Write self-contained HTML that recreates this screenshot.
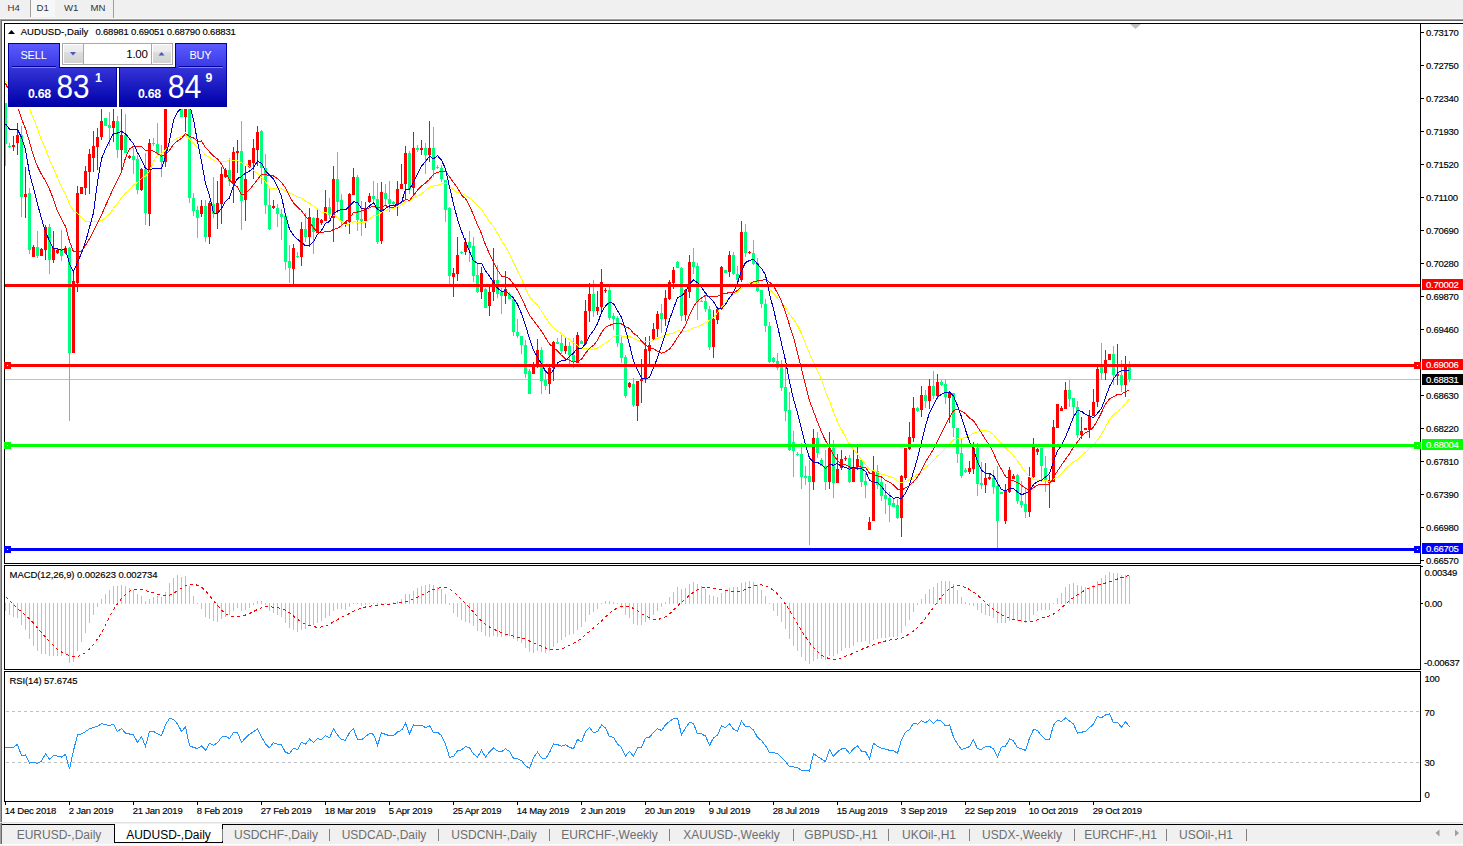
<!DOCTYPE html>
<html><head><meta charset="utf-8"><style>
html,body{margin:0;padding:0;background:#fff;overflow:hidden;width:1463px;height:846px}
svg text{font-family:"Liberation Sans", sans-serif;}
</style></head><body>
<svg width="1463" height="846" viewBox="0 0 1463 846" style="position:absolute;left:0;top:0">
<rect x="0" y="0" width="1463" height="846" fill="#fff"/>
<!-- toolbar -->
<rect x="0" y="0" width="1463" height="18" fill="#F0F0F0"/>
<rect x="0" y="18" width="1463" height="1" fill="#F7F7F7"/>
<rect x="0" y="19" width="1463" height="1" fill="#A0A0A0"/>
<rect x="0" y="20" width="1463" height="1" fill="#696969"/>
<rect x="30" y="0" width="1" height="17" fill="#A0A0A0"/>
<rect x="31" y="0" width="24" height="17" fill="#F7F7F7"/>
<rect x="113" y="0" width="1" height="18" fill="#A0A0A0"/>

<g shape-rendering="crispEdges">
<rect x="5" y="379" width="1415" height="1" fill="#C0C0C0"/>
<rect x="5" y="103" width="1" height="63" fill="#00FF7F"/>
<rect x="4" y="103" width="3" height="41" fill="#00FF7F"/>
<rect x="9" y="143" width="1" height="5" fill="#00FF7F"/>
<rect x="8" y="146" width="3" height="1" fill="#00FF7F"/>
<rect x="13" y="136" width="1" height="15" fill="#FF0000"/>
<rect x="12" y="145" width="3" height="2" fill="#FF0000"/>
<rect x="17" y="123" width="1" height="32" fill="#FF0000"/>
<rect x="16" y="135" width="3" height="8" fill="#FF0000"/>
<rect x="21" y="126" width="1" height="91" fill="#00FF7F"/>
<rect x="20" y="135" width="3" height="62" fill="#00FF7F"/>
<rect x="25" y="167" width="1" height="51" fill="#FF0000"/>
<rect x="24" y="194" width="3" height="3" fill="#FF0000"/>
<rect x="29" y="188" width="1" height="66" fill="#00FF7F"/>
<rect x="28" y="193" width="3" height="57" fill="#00FF7F"/>
<rect x="33" y="245" width="1" height="12" fill="#FF0000"/>
<rect x="32" y="247" width="3" height="10" fill="#FF0000"/>
<rect x="37" y="231" width="1" height="27" fill="#00FF7F"/>
<rect x="36" y="247" width="3" height="9" fill="#00FF7F"/>
<rect x="41" y="248" width="1" height="8" fill="#FF0000"/>
<rect x="40" y="249" width="3" height="7" fill="#FF0000"/>
<rect x="45" y="225" width="1" height="35" fill="#FF0000"/>
<rect x="44" y="227" width="3" height="23" fill="#FF0000"/>
<rect x="49" y="224" width="1" height="50" fill="#00FF7F"/>
<rect x="48" y="227" width="3" height="33" fill="#00FF7F"/>
<rect x="53" y="231" width="1" height="32" fill="#FF0000"/>
<rect x="52" y="248" width="3" height="12" fill="#FF0000"/>
<rect x="57" y="248" width="1" height="6" fill="#FF0000"/>
<rect x="56" y="250" width="3" height="3" fill="#FF0000"/>
<rect x="61" y="230" width="1" height="31" fill="#00FF7F"/>
<rect x="60" y="250" width="3" height="6" fill="#00FF7F"/>
<rect x="65" y="246" width="1" height="8" fill="#FF0000"/>
<rect x="64" y="248" width="3" height="5" fill="#FF0000"/>
<rect x="69" y="247" width="1" height="174" fill="#00FF7F"/>
<rect x="68" y="248" width="3" height="105" fill="#00FF7F"/>
<rect x="73" y="271" width="1" height="82" fill="#FF0000"/>
<rect x="72" y="281" width="3" height="72" fill="#FF0000"/>
<rect x="77" y="186" width="1" height="106" fill="#FF0000"/>
<rect x="76" y="193" width="3" height="90" fill="#FF0000"/>
<rect x="81" y="187" width="1" height="7" fill="#FF0000"/>
<rect x="80" y="187" width="3" height="7" fill="#FF0000"/>
<rect x="85" y="166" width="1" height="29" fill="#FF0000"/>
<rect x="84" y="171" width="3" height="17" fill="#FF0000"/>
<rect x="89" y="149" width="1" height="45" fill="#FF0000"/>
<rect x="88" y="154" width="3" height="18" fill="#FF0000"/>
<rect x="93" y="131" width="1" height="41" fill="#FF0000"/>
<rect x="92" y="146" width="3" height="12" fill="#FF0000"/>
<rect x="97" y="128" width="1" height="42" fill="#FF0000"/>
<rect x="96" y="137" width="3" height="10" fill="#FF0000"/>
<rect x="101" y="109" width="1" height="31" fill="#FF0000"/>
<rect x="100" y="121" width="3" height="16" fill="#FF0000"/>
<rect x="105" y="118" width="1" height="8" fill="#00FF7F"/>
<rect x="104" y="118" width="3" height="8" fill="#00FF7F"/>
<rect x="109" y="112" width="1" height="34" fill="#00FF7F"/>
<rect x="108" y="125" width="3" height="3" fill="#00FF7F"/>
<rect x="113" y="109" width="1" height="33" fill="#FF0000"/>
<rect x="112" y="121" width="3" height="7" fill="#FF0000"/>
<rect x="117" y="116" width="1" height="42" fill="#00FF7F"/>
<rect x="116" y="121" width="3" height="29" fill="#00FF7F"/>
<rect x="121" y="109" width="1" height="61" fill="#FF0000"/>
<rect x="120" y="135" width="3" height="15" fill="#FF0000"/>
<rect x="125" y="114" width="1" height="39" fill="#00FF7F"/>
<rect x="124" y="135" width="3" height="18" fill="#00FF7F"/>
<rect x="129" y="155" width="1" height="4" fill="#FF0000"/>
<rect x="128" y="156" width="3" height="2" fill="#FF0000"/>
<rect x="133" y="148" width="1" height="26" fill="#00FF7F"/>
<rect x="132" y="156" width="3" height="4" fill="#00FF7F"/>
<rect x="137" y="155" width="1" height="39" fill="#00FF7F"/>
<rect x="136" y="159" width="3" height="31" fill="#00FF7F"/>
<rect x="141" y="168" width="1" height="23" fill="#FF0000"/>
<rect x="140" y="169" width="3" height="21" fill="#FF0000"/>
<rect x="145" y="153" width="1" height="72" fill="#00FF7F"/>
<rect x="144" y="169" width="3" height="44" fill="#00FF7F"/>
<rect x="149" y="139" width="1" height="87" fill="#FF0000"/>
<rect x="148" y="143" width="3" height="71" fill="#FF0000"/>
<rect x="153" y="138" width="1" height="8" fill="#00FF7F"/>
<rect x="152" y="143" width="3" height="1" fill="#00FF7F"/>
<rect x="157" y="123" width="1" height="32" fill="#00FF7F"/>
<rect x="156" y="144" width="3" height="10" fill="#00FF7F"/>
<rect x="161" y="145" width="1" height="32" fill="#00FF7F"/>
<rect x="160" y="155" width="3" height="7" fill="#00FF7F"/>
<rect x="165" y="100" width="1" height="67" fill="#FF0000"/>
<rect x="164" y="105" width="3" height="57" fill="#FF0000"/>
<rect x="169" y="55" width="1" height="51" fill="#FF0000"/>
<rect x="168" y="63" width="3" height="41" fill="#FF0000"/>
<rect x="173" y="58" width="1" height="22" fill="#00FF7F"/>
<rect x="172" y="63" width="3" height="4" fill="#00FF7F"/>
<rect x="177" y="60" width="1" height="35" fill="#00FF7F"/>
<rect x="176" y="67" width="3" height="18" fill="#00FF7F"/>
<rect x="181" y="80" width="1" height="37" fill="#00FF7F"/>
<rect x="180" y="85" width="3" height="32" fill="#00FF7F"/>
<rect x="185" y="85" width="1" height="47" fill="#FF0000"/>
<rect x="184" y="92" width="3" height="25" fill="#FF0000"/>
<rect x="189" y="90" width="1" height="113" fill="#00FF7F"/>
<rect x="188" y="95" width="3" height="103" fill="#00FF7F"/>
<rect x="193" y="193" width="1" height="23" fill="#00FF7F"/>
<rect x="192" y="198" width="3" height="13" fill="#00FF7F"/>
<rect x="197" y="206" width="1" height="32" fill="#00FF7F"/>
<rect x="196" y="210" width="3" height="8" fill="#00FF7F"/>
<rect x="201" y="200" width="1" height="17" fill="#FF0000"/>
<rect x="200" y="206" width="3" height="8" fill="#FF0000"/>
<rect x="205" y="200" width="1" height="42" fill="#00FF7F"/>
<rect x="204" y="206" width="3" height="31" fill="#00FF7F"/>
<rect x="209" y="201" width="1" height="43" fill="#FF0000"/>
<rect x="208" y="203" width="3" height="34" fill="#FF0000"/>
<rect x="213" y="177" width="1" height="41" fill="#00FF7F"/>
<rect x="212" y="204" width="3" height="10" fill="#00FF7F"/>
<rect x="217" y="181" width="1" height="48" fill="#FF0000"/>
<rect x="216" y="203" width="3" height="10" fill="#FF0000"/>
<rect x="221" y="167" width="1" height="57" fill="#FF0000"/>
<rect x="220" y="174" width="3" height="30" fill="#FF0000"/>
<rect x="225" y="168" width="1" height="10" fill="#FF0000"/>
<rect x="224" y="170" width="3" height="7" fill="#FF0000"/>
<rect x="229" y="158" width="1" height="28" fill="#00FF7F"/>
<rect x="228" y="170" width="3" height="11" fill="#00FF7F"/>
<rect x="233" y="147" width="1" height="56" fill="#FF0000"/>
<rect x="232" y="152" width="3" height="32" fill="#FF0000"/>
<rect x="237" y="140" width="1" height="33" fill="#FF0000"/>
<rect x="236" y="151" width="3" height="2" fill="#FF0000"/>
<rect x="241" y="121" width="1" height="109" fill="#00FF7F"/>
<rect x="240" y="151" width="3" height="50" fill="#00FF7F"/>
<rect x="245" y="166" width="1" height="55" fill="#FF0000"/>
<rect x="244" y="179" width="3" height="21" fill="#FF0000"/>
<rect x="249" y="160" width="1" height="8" fill="#FF0000"/>
<rect x="248" y="160" width="3" height="7" fill="#FF0000"/>
<rect x="253" y="139" width="1" height="40" fill="#FF0000"/>
<rect x="252" y="148" width="3" height="15" fill="#FF0000"/>
<rect x="257" y="126" width="1" height="40" fill="#FF0000"/>
<rect x="256" y="132" width="3" height="18" fill="#FF0000"/>
<rect x="261" y="130" width="1" height="54" fill="#00FF7F"/>
<rect x="260" y="131" width="3" height="37" fill="#00FF7F"/>
<rect x="265" y="154" width="1" height="60" fill="#00FF7F"/>
<rect x="264" y="168" width="3" height="37" fill="#00FF7F"/>
<rect x="269" y="189" width="1" height="41" fill="#00FF7F"/>
<rect x="268" y="205" width="3" height="24" fill="#00FF7F"/>
<rect x="273" y="200" width="1" height="9" fill="#FF0000"/>
<rect x="272" y="206" width="3" height="2" fill="#FF0000"/>
<rect x="277" y="204" width="1" height="23" fill="#00FF7F"/>
<rect x="276" y="208" width="3" height="6" fill="#00FF7F"/>
<rect x="281" y="209" width="1" height="31" fill="#00FF7F"/>
<rect x="280" y="214" width="3" height="3" fill="#00FF7F"/>
<rect x="285" y="216" width="1" height="54" fill="#00FF7F"/>
<rect x="284" y="216" width="3" height="46" fill="#00FF7F"/>
<rect x="289" y="245" width="1" height="38" fill="#00FF7F"/>
<rect x="288" y="261" width="3" height="7" fill="#00FF7F"/>
<rect x="293" y="244" width="1" height="40" fill="#FF0000"/>
<rect x="292" y="248" width="3" height="21" fill="#FF0000"/>
<rect x="297" y="252" width="1" height="6" fill="#00FF7F"/>
<rect x="296" y="256" width="3" height="1" fill="#00FF7F"/>
<rect x="301" y="222" width="1" height="44" fill="#FF0000"/>
<rect x="300" y="229" width="3" height="28" fill="#FF0000"/>
<rect x="305" y="213" width="1" height="29" fill="#00FF7F"/>
<rect x="304" y="229" width="3" height="8" fill="#00FF7F"/>
<rect x="309" y="208" width="1" height="39" fill="#FF0000"/>
<rect x="308" y="217" width="3" height="20" fill="#FF0000"/>
<rect x="313" y="217" width="1" height="37" fill="#00FF7F"/>
<rect x="312" y="218" width="3" height="14" fill="#00FF7F"/>
<rect x="317" y="209" width="1" height="24" fill="#FF0000"/>
<rect x="316" y="218" width="3" height="15" fill="#FF0000"/>
<rect x="321" y="219" width="1" height="6" fill="#FF0000"/>
<rect x="320" y="220" width="3" height="3" fill="#FF0000"/>
<rect x="325" y="190" width="1" height="31" fill="#FF0000"/>
<rect x="324" y="207" width="3" height="14" fill="#FF0000"/>
<rect x="329" y="198" width="1" height="21" fill="#00FF7F"/>
<rect x="328" y="207" width="3" height="8" fill="#00FF7F"/>
<rect x="333" y="166" width="1" height="76" fill="#FF0000"/>
<rect x="332" y="179" width="3" height="39" fill="#FF0000"/>
<rect x="337" y="152" width="1" height="61" fill="#00FF7F"/>
<rect x="336" y="179" width="3" height="23" fill="#00FF7F"/>
<rect x="341" y="194" width="1" height="31" fill="#00FF7F"/>
<rect x="340" y="200" width="3" height="21" fill="#00FF7F"/>
<rect x="345" y="221" width="1" height="6" fill="#FF0000"/>
<rect x="344" y="222" width="3" height="2" fill="#FF0000"/>
<rect x="349" y="193" width="1" height="41" fill="#FF0000"/>
<rect x="348" y="194" width="3" height="28" fill="#FF0000"/>
<rect x="353" y="168" width="1" height="27" fill="#FF0000"/>
<rect x="352" y="177" width="3" height="18" fill="#FF0000"/>
<rect x="357" y="175" width="1" height="56" fill="#00FF7F"/>
<rect x="356" y="177" width="3" height="43" fill="#00FF7F"/>
<rect x="361" y="201" width="1" height="35" fill="#00FF7F"/>
<rect x="360" y="219" width="3" height="2" fill="#00FF7F"/>
<rect x="365" y="202" width="1" height="26" fill="#FF0000"/>
<rect x="364" y="208" width="3" height="13" fill="#FF0000"/>
<rect x="369" y="193" width="1" height="10" fill="#FF0000"/>
<rect x="368" y="196" width="3" height="6" fill="#FF0000"/>
<rect x="373" y="181" width="1" height="22" fill="#00FF7F"/>
<rect x="372" y="196" width="3" height="3" fill="#00FF7F"/>
<rect x="377" y="183" width="1" height="61" fill="#00FF7F"/>
<rect x="376" y="199" width="3" height="43" fill="#00FF7F"/>
<rect x="381" y="182" width="1" height="62" fill="#FF0000"/>
<rect x="380" y="192" width="3" height="49" fill="#FF0000"/>
<rect x="385" y="184" width="1" height="22" fill="#00FF7F"/>
<rect x="384" y="193" width="3" height="6" fill="#00FF7F"/>
<rect x="389" y="181" width="1" height="31" fill="#00FF7F"/>
<rect x="388" y="199" width="3" height="5" fill="#00FF7F"/>
<rect x="393" y="201" width="1" height="5" fill="#00FF7F"/>
<rect x="392" y="202" width="3" height="2" fill="#00FF7F"/>
<rect x="397" y="181" width="1" height="35" fill="#FF0000"/>
<rect x="396" y="189" width="3" height="15" fill="#FF0000"/>
<rect x="401" y="164" width="1" height="25" fill="#FF0000"/>
<rect x="400" y="184" width="3" height="5" fill="#FF0000"/>
<rect x="405" y="146" width="1" height="54" fill="#FF0000"/>
<rect x="404" y="153" width="3" height="31" fill="#FF0000"/>
<rect x="409" y="151" width="1" height="43" fill="#00FF7F"/>
<rect x="408" y="153" width="3" height="36" fill="#00FF7F"/>
<rect x="413" y="132" width="1" height="62" fill="#FF0000"/>
<rect x="412" y="148" width="3" height="40" fill="#FF0000"/>
<rect x="417" y="145" width="1" height="7" fill="#00FF7F"/>
<rect x="416" y="148" width="3" height="2" fill="#00FF7F"/>
<rect x="421" y="140" width="1" height="15" fill="#FF0000"/>
<rect x="420" y="148" width="3" height="2" fill="#FF0000"/>
<rect x="425" y="143" width="1" height="31" fill="#00FF7F"/>
<rect x="424" y="148" width="3" height="7" fill="#00FF7F"/>
<rect x="429" y="121" width="1" height="41" fill="#FF0000"/>
<rect x="428" y="148" width="3" height="7" fill="#FF0000"/>
<rect x="433" y="127" width="1" height="50" fill="#00FF7F"/>
<rect x="432" y="148" width="3" height="22" fill="#00FF7F"/>
<rect x="437" y="165" width="1" height="4" fill="#00FF7F"/>
<rect x="436" y="167" width="3" height="1" fill="#00FF7F"/>
<rect x="441" y="165" width="1" height="17" fill="#00FF7F"/>
<rect x="440" y="168" width="3" height="11" fill="#00FF7F"/>
<rect x="445" y="180" width="1" height="42" fill="#00FF7F"/>
<rect x="444" y="180" width="3" height="30" fill="#00FF7F"/>
<rect x="449" y="207" width="1" height="77" fill="#00FF7F"/>
<rect x="448" y="208" width="3" height="68" fill="#00FF7F"/>
<rect x="453" y="268" width="1" height="29" fill="#FF0000"/>
<rect x="452" y="273" width="3" height="4" fill="#FF0000"/>
<rect x="457" y="237" width="1" height="44" fill="#FF0000"/>
<rect x="456" y="255" width="3" height="19" fill="#FF0000"/>
<rect x="461" y="251" width="1" height="3" fill="#00FF7F"/>
<rect x="460" y="252" width="3" height="1" fill="#00FF7F"/>
<rect x="465" y="238" width="1" height="17" fill="#FF0000"/>
<rect x="464" y="242" width="3" height="10" fill="#FF0000"/>
<rect x="469" y="231" width="1" height="31" fill="#00FF7F"/>
<rect x="468" y="242" width="3" height="6" fill="#00FF7F"/>
<rect x="473" y="237" width="1" height="45" fill="#00FF7F"/>
<rect x="472" y="246" width="3" height="30" fill="#00FF7F"/>
<rect x="477" y="263" width="1" height="30" fill="#00FF7F"/>
<rect x="476" y="275" width="3" height="17" fill="#00FF7F"/>
<rect x="481" y="267" width="1" height="32" fill="#FF0000"/>
<rect x="480" y="273" width="3" height="19" fill="#FF0000"/>
<rect x="485" y="288" width="1" height="20" fill="#00FF7F"/>
<rect x="484" y="289" width="3" height="19" fill="#00FF7F"/>
<rect x="489" y="287" width="1" height="29" fill="#FF0000"/>
<rect x="488" y="292" width="3" height="14" fill="#FF0000"/>
<rect x="493" y="248" width="1" height="53" fill="#FF0000"/>
<rect x="492" y="280" width="3" height="12" fill="#FF0000"/>
<rect x="497" y="265" width="1" height="33" fill="#00FF7F"/>
<rect x="496" y="280" width="3" height="14" fill="#00FF7F"/>
<rect x="501" y="288" width="1" height="26" fill="#00FF7F"/>
<rect x="500" y="292" width="3" height="4" fill="#00FF7F"/>
<rect x="505" y="271" width="1" height="33" fill="#FF0000"/>
<rect x="504" y="289" width="3" height="7" fill="#FF0000"/>
<rect x="509" y="292" width="1" height="7" fill="#00FF7F"/>
<rect x="508" y="294" width="3" height="5" fill="#00FF7F"/>
<rect x="513" y="298" width="1" height="38" fill="#00FF7F"/>
<rect x="512" y="299" width="3" height="33" fill="#00FF7F"/>
<rect x="517" y="319" width="1" height="19" fill="#00FF7F"/>
<rect x="516" y="332" width="3" height="4" fill="#00FF7F"/>
<rect x="521" y="336" width="1" height="18" fill="#00FF7F"/>
<rect x="520" y="336" width="3" height="9" fill="#00FF7F"/>
<rect x="525" y="340" width="1" height="38" fill="#00FF7F"/>
<rect x="524" y="345" width="3" height="29" fill="#00FF7F"/>
<rect x="529" y="369" width="1" height="25" fill="#00FF7F"/>
<rect x="528" y="371" width="3" height="23" fill="#00FF7F"/>
<rect x="533" y="362" width="1" height="12" fill="#FF0000"/>
<rect x="532" y="366" width="3" height="8" fill="#FF0000"/>
<rect x="537" y="339" width="1" height="29" fill="#FF0000"/>
<rect x="536" y="350" width="3" height="15" fill="#FF0000"/>
<rect x="541" y="347" width="1" height="47" fill="#00FF7F"/>
<rect x="540" y="350" width="3" height="31" fill="#00FF7F"/>
<rect x="545" y="370" width="1" height="20" fill="#00FF7F"/>
<rect x="544" y="380" width="3" height="6" fill="#00FF7F"/>
<rect x="549" y="367" width="1" height="27" fill="#FF0000"/>
<rect x="548" y="368" width="3" height="16" fill="#FF0000"/>
<rect x="553" y="341" width="1" height="40" fill="#FF0000"/>
<rect x="552" y="342" width="3" height="26" fill="#FF0000"/>
<rect x="557" y="338" width="1" height="6" fill="#00FF7F"/>
<rect x="556" y="342" width="3" height="2" fill="#00FF7F"/>
<rect x="561" y="335" width="1" height="19" fill="#00FF7F"/>
<rect x="560" y="343" width="3" height="8" fill="#00FF7F"/>
<rect x="565" y="338" width="1" height="16" fill="#FF0000"/>
<rect x="564" y="346" width="3" height="5" fill="#FF0000"/>
<rect x="569" y="342" width="1" height="22" fill="#00FF7F"/>
<rect x="568" y="346" width="3" height="9" fill="#00FF7F"/>
<rect x="573" y="338" width="1" height="30" fill="#00FF7F"/>
<rect x="572" y="355" width="3" height="6" fill="#00FF7F"/>
<rect x="577" y="332" width="1" height="31" fill="#FF0000"/>
<rect x="576" y="335" width="3" height="28" fill="#FF0000"/>
<rect x="581" y="340" width="1" height="4" fill="#00FF7F"/>
<rect x="580" y="341" width="3" height="3" fill="#00FF7F"/>
<rect x="585" y="300" width="1" height="45" fill="#FF0000"/>
<rect x="584" y="311" width="3" height="33" fill="#FF0000"/>
<rect x="589" y="283" width="1" height="39" fill="#FF0000"/>
<rect x="588" y="294" width="3" height="17" fill="#FF0000"/>
<rect x="593" y="280" width="1" height="37" fill="#00FF7F"/>
<rect x="592" y="294" width="3" height="17" fill="#00FF7F"/>
<rect x="597" y="291" width="1" height="24" fill="#FF0000"/>
<rect x="596" y="307" width="3" height="4" fill="#FF0000"/>
<rect x="601" y="269" width="1" height="45" fill="#FF0000"/>
<rect x="600" y="282" width="3" height="25" fill="#FF0000"/>
<rect x="605" y="288" width="1" height="5" fill="#FF0000"/>
<rect x="604" y="290" width="3" height="1" fill="#FF0000"/>
<rect x="609" y="287" width="1" height="33" fill="#00FF7F"/>
<rect x="608" y="290" width="3" height="28" fill="#00FF7F"/>
<rect x="613" y="313" width="1" height="17" fill="#00FF7F"/>
<rect x="612" y="316" width="3" height="3" fill="#00FF7F"/>
<rect x="617" y="316" width="1" height="31" fill="#00FF7F"/>
<rect x="616" y="318" width="3" height="25" fill="#00FF7F"/>
<rect x="621" y="336" width="1" height="27" fill="#00FF7F"/>
<rect x="620" y="343" width="3" height="15" fill="#00FF7F"/>
<rect x="625" y="355" width="1" height="43" fill="#00FF7F"/>
<rect x="624" y="357" width="3" height="39" fill="#00FF7F"/>
<rect x="629" y="382" width="1" height="6" fill="#FF0000"/>
<rect x="628" y="383" width="3" height="4" fill="#FF0000"/>
<rect x="633" y="378" width="1" height="29" fill="#00FF7F"/>
<rect x="632" y="384" width="3" height="21" fill="#00FF7F"/>
<rect x="637" y="381" width="1" height="40" fill="#FF0000"/>
<rect x="636" y="381" width="3" height="25" fill="#FF0000"/>
<rect x="641" y="359" width="1" height="44" fill="#FF0000"/>
<rect x="640" y="379" width="3" height="2" fill="#FF0000"/>
<rect x="645" y="337" width="1" height="46" fill="#FF0000"/>
<rect x="644" y="349" width="3" height="30" fill="#FF0000"/>
<rect x="649" y="336" width="1" height="29" fill="#FF0000"/>
<rect x="648" y="345" width="3" height="6" fill="#FF0000"/>
<rect x="653" y="323" width="1" height="17" fill="#FF0000"/>
<rect x="652" y="329" width="3" height="10" fill="#FF0000"/>
<rect x="657" y="311" width="1" height="26" fill="#FF0000"/>
<rect x="656" y="314" width="3" height="15" fill="#FF0000"/>
<rect x="661" y="304" width="1" height="29" fill="#00FF7F"/>
<rect x="660" y="313" width="3" height="6" fill="#00FF7F"/>
<rect x="665" y="290" width="1" height="36" fill="#FF0000"/>
<rect x="664" y="298" width="3" height="21" fill="#FF0000"/>
<rect x="669" y="280" width="1" height="20" fill="#FF0000"/>
<rect x="668" y="282" width="3" height="17" fill="#FF0000"/>
<rect x="673" y="267" width="1" height="22" fill="#FF0000"/>
<rect x="672" y="270" width="3" height="13" fill="#FF0000"/>
<rect x="677" y="261" width="1" height="7" fill="#00FF7F"/>
<rect x="676" y="262" width="3" height="6" fill="#00FF7F"/>
<rect x="681" y="267" width="1" height="54" fill="#00FF7F"/>
<rect x="680" y="268" width="3" height="48" fill="#00FF7F"/>
<rect x="685" y="289" width="1" height="32" fill="#FF0000"/>
<rect x="684" y="290" width="3" height="25" fill="#FF0000"/>
<rect x="689" y="255" width="1" height="43" fill="#FF0000"/>
<rect x="688" y="262" width="3" height="30" fill="#FF0000"/>
<rect x="693" y="248" width="1" height="26" fill="#00FF7F"/>
<rect x="692" y="262" width="3" height="5" fill="#00FF7F"/>
<rect x="697" y="263" width="1" height="57" fill="#00FF7F"/>
<rect x="696" y="266" width="3" height="36" fill="#00FF7F"/>
<rect x="701" y="300" width="1" height="2" fill="#00FF7F"/>
<rect x="700" y="301" width="3" height="1" fill="#00FF7F"/>
<rect x="705" y="296" width="1" height="16" fill="#00FF7F"/>
<rect x="704" y="301" width="3" height="8" fill="#00FF7F"/>
<rect x="709" y="306" width="1" height="44" fill="#00FF7F"/>
<rect x="708" y="309" width="3" height="38" fill="#00FF7F"/>
<rect x="713" y="310" width="1" height="48" fill="#FF0000"/>
<rect x="712" y="319" width="3" height="28" fill="#FF0000"/>
<rect x="717" y="308" width="1" height="16" fill="#FF0000"/>
<rect x="716" y="309" width="3" height="11" fill="#FF0000"/>
<rect x="721" y="266" width="1" height="44" fill="#FF0000"/>
<rect x="720" y="267" width="3" height="42" fill="#FF0000"/>
<rect x="725" y="270" width="1" height="3" fill="#00FF7F"/>
<rect x="724" y="270" width="3" height="3" fill="#00FF7F"/>
<rect x="729" y="251" width="1" height="26" fill="#FF0000"/>
<rect x="728" y="255" width="3" height="17" fill="#FF0000"/>
<rect x="733" y="252" width="1" height="23" fill="#00FF7F"/>
<rect x="732" y="255" width="3" height="19" fill="#00FF7F"/>
<rect x="737" y="266" width="1" height="15" fill="#00FF7F"/>
<rect x="736" y="274" width="3" height="6" fill="#00FF7F"/>
<rect x="741" y="221" width="1" height="61" fill="#FF0000"/>
<rect x="740" y="232" width="3" height="48" fill="#FF0000"/>
<rect x="745" y="224" width="1" height="33" fill="#00FF7F"/>
<rect x="744" y="232" width="3" height="21" fill="#00FF7F"/>
<rect x="749" y="251" width="1" height="3" fill="#FF0000"/>
<rect x="748" y="252" width="3" height="1" fill="#FF0000"/>
<rect x="753" y="240" width="1" height="25" fill="#00FF7F"/>
<rect x="752" y="253" width="3" height="11" fill="#00FF7F"/>
<rect x="757" y="258" width="1" height="34" fill="#00FF7F"/>
<rect x="756" y="263" width="3" height="28" fill="#00FF7F"/>
<rect x="761" y="290" width="1" height="18" fill="#00FF7F"/>
<rect x="760" y="290" width="3" height="14" fill="#00FF7F"/>
<rect x="765" y="299" width="1" height="33" fill="#00FF7F"/>
<rect x="764" y="304" width="3" height="22" fill="#00FF7F"/>
<rect x="769" y="322" width="1" height="41" fill="#00FF7F"/>
<rect x="768" y="326" width="3" height="36" fill="#00FF7F"/>
<rect x="773" y="357" width="1" height="6" fill="#00FF7F"/>
<rect x="772" y="358" width="3" height="4" fill="#00FF7F"/>
<rect x="777" y="353" width="1" height="17" fill="#00FF7F"/>
<rect x="776" y="361" width="3" height="7" fill="#00FF7F"/>
<rect x="781" y="360" width="1" height="31" fill="#00FF7F"/>
<rect x="780" y="367" width="3" height="21" fill="#00FF7F"/>
<rect x="785" y="365" width="1" height="56" fill="#00FF7F"/>
<rect x="784" y="387" width="3" height="24" fill="#00FF7F"/>
<rect x="789" y="392" width="1" height="59" fill="#00FF7F"/>
<rect x="788" y="410" width="3" height="40" fill="#00FF7F"/>
<rect x="793" y="431" width="1" height="46" fill="#00FF7F"/>
<rect x="792" y="442" width="3" height="9" fill="#00FF7F"/>
<rect x="797" y="452" width="1" height="4" fill="#00FF7F"/>
<rect x="796" y="454" width="3" height="1" fill="#00FF7F"/>
<rect x="801" y="443" width="1" height="46" fill="#00FF7F"/>
<rect x="800" y="454" width="3" height="23" fill="#00FF7F"/>
<rect x="805" y="466" width="1" height="19" fill="#00FF7F"/>
<rect x="804" y="476" width="3" height="2" fill="#00FF7F"/>
<rect x="809" y="460" width="1" height="85" fill="#00FF7F"/>
<rect x="808" y="476" width="3" height="6" fill="#00FF7F"/>
<rect x="813" y="429" width="1" height="61" fill="#FF0000"/>
<rect x="812" y="438" width="3" height="44" fill="#FF0000"/>
<rect x="817" y="432" width="1" height="26" fill="#00FF7F"/>
<rect x="816" y="438" width="3" height="15" fill="#00FF7F"/>
<rect x="821" y="458" width="1" height="8" fill="#00FF7F"/>
<rect x="820" y="460" width="3" height="6" fill="#00FF7F"/>
<rect x="825" y="450" width="1" height="40" fill="#00FF7F"/>
<rect x="824" y="466" width="3" height="16" fill="#00FF7F"/>
<rect x="829" y="432" width="1" height="57" fill="#FF0000"/>
<rect x="828" y="448" width="3" height="34" fill="#FF0000"/>
<rect x="833" y="440" width="1" height="58" fill="#00FF7F"/>
<rect x="832" y="448" width="3" height="35" fill="#00FF7F"/>
<rect x="837" y="454" width="1" height="29" fill="#FF0000"/>
<rect x="836" y="469" width="3" height="14" fill="#FF0000"/>
<rect x="841" y="450" width="1" height="20" fill="#FF0000"/>
<rect x="840" y="459" width="3" height="9" fill="#FF0000"/>
<rect x="845" y="456" width="1" height="5" fill="#FF0000"/>
<rect x="844" y="458" width="3" height="1" fill="#FF0000"/>
<rect x="849" y="455" width="1" height="28" fill="#00FF7F"/>
<rect x="848" y="458" width="3" height="24" fill="#00FF7F"/>
<rect x="853" y="450" width="1" height="32" fill="#FF0000"/>
<rect x="852" y="468" width="3" height="14" fill="#FF0000"/>
<rect x="857" y="447" width="1" height="23" fill="#FF0000"/>
<rect x="856" y="459" width="3" height="8" fill="#FF0000"/>
<rect x="861" y="459" width="1" height="28" fill="#00FF7F"/>
<rect x="860" y="460" width="3" height="22" fill="#00FF7F"/>
<rect x="865" y="473" width="1" height="25" fill="#00FF7F"/>
<rect x="864" y="481" width="3" height="4" fill="#00FF7F"/>
<rect x="869" y="517" width="1" height="13" fill="#FF0000"/>
<rect x="868" y="522" width="3" height="8" fill="#FF0000"/>
<rect x="873" y="456" width="1" height="65" fill="#FF0000"/>
<rect x="872" y="471" width="3" height="50" fill="#FF0000"/>
<rect x="877" y="465" width="1" height="24" fill="#00FF7F"/>
<rect x="876" y="471" width="3" height="14" fill="#00FF7F"/>
<rect x="881" y="477" width="1" height="24" fill="#00FF7F"/>
<rect x="880" y="482" width="3" height="14" fill="#00FF7F"/>
<rect x="885" y="484" width="1" height="30" fill="#00FF7F"/>
<rect x="884" y="495" width="3" height="4" fill="#00FF7F"/>
<rect x="889" y="492" width="1" height="30" fill="#00FF7F"/>
<rect x="888" y="498" width="3" height="7" fill="#00FF7F"/>
<rect x="893" y="499" width="1" height="8" fill="#00FF7F"/>
<rect x="892" y="503" width="3" height="4" fill="#00FF7F"/>
<rect x="897" y="499" width="1" height="20" fill="#00FF7F"/>
<rect x="896" y="505" width="3" height="13" fill="#00FF7F"/>
<rect x="901" y="475" width="1" height="62" fill="#FF0000"/>
<rect x="900" y="476" width="3" height="42" fill="#FF0000"/>
<rect x="905" y="448" width="1" height="32" fill="#FF0000"/>
<rect x="904" y="448" width="3" height="30" fill="#FF0000"/>
<rect x="909" y="422" width="1" height="28" fill="#FF0000"/>
<rect x="908" y="437" width="3" height="12" fill="#FF0000"/>
<rect x="913" y="397" width="1" height="45" fill="#FF0000"/>
<rect x="912" y="408" width="3" height="30" fill="#FF0000"/>
<rect x="917" y="407" width="1" height="5" fill="#00FF7F"/>
<rect x="916" y="408" width="3" height="3" fill="#00FF7F"/>
<rect x="921" y="386" width="1" height="31" fill="#FF0000"/>
<rect x="920" y="395" width="3" height="15" fill="#FF0000"/>
<rect x="925" y="390" width="1" height="18" fill="#00FF7F"/>
<rect x="924" y="395" width="3" height="6" fill="#00FF7F"/>
<rect x="929" y="379" width="1" height="30" fill="#FF0000"/>
<rect x="928" y="386" width="3" height="15" fill="#FF0000"/>
<rect x="933" y="371" width="1" height="28" fill="#00FF7F"/>
<rect x="932" y="386" width="3" height="10" fill="#00FF7F"/>
<rect x="937" y="374" width="1" height="25" fill="#FF0000"/>
<rect x="936" y="382" width="3" height="14" fill="#FF0000"/>
<rect x="941" y="380" width="1" height="6" fill="#00FF7F"/>
<rect x="940" y="382" width="3" height="3" fill="#00FF7F"/>
<rect x="945" y="379" width="1" height="25" fill="#00FF7F"/>
<rect x="944" y="384" width="3" height="13" fill="#00FF7F"/>
<rect x="949" y="392" width="1" height="31" fill="#FF0000"/>
<rect x="948" y="393" width="3" height="5" fill="#FF0000"/>
<rect x="953" y="393" width="1" height="44" fill="#00FF7F"/>
<rect x="952" y="393" width="3" height="35" fill="#00FF7F"/>
<rect x="957" y="428" width="1" height="35" fill="#00FF7F"/>
<rect x="956" y="428" width="3" height="26" fill="#00FF7F"/>
<rect x="961" y="439" width="1" height="39" fill="#00FF7F"/>
<rect x="960" y="453" width="3" height="23" fill="#00FF7F"/>
<rect x="965" y="468" width="1" height="5" fill="#00FF7F"/>
<rect x="964" y="470" width="3" height="2" fill="#00FF7F"/>
<rect x="969" y="461" width="1" height="13" fill="#FF0000"/>
<rect x="968" y="468" width="3" height="4" fill="#FF0000"/>
<rect x="973" y="442" width="1" height="32" fill="#FF0000"/>
<rect x="972" y="448" width="3" height="21" fill="#FF0000"/>
<rect x="977" y="443" width="1" height="53" fill="#00FF7F"/>
<rect x="976" y="448" width="3" height="36" fill="#00FF7F"/>
<rect x="981" y="462" width="1" height="27" fill="#00FF7F"/>
<rect x="980" y="483" width="3" height="2" fill="#00FF7F"/>
<rect x="985" y="463" width="1" height="30" fill="#FF0000"/>
<rect x="984" y="478" width="3" height="7" fill="#FF0000"/>
<rect x="989" y="474" width="1" height="6" fill="#FF0000"/>
<rect x="988" y="477" width="3" height="2" fill="#FF0000"/>
<rect x="993" y="470" width="1" height="24" fill="#00FF7F"/>
<rect x="992" y="478" width="3" height="9" fill="#00FF7F"/>
<rect x="997" y="466" width="1" height="82" fill="#00FF7F"/>
<rect x="996" y="486" width="3" height="35" fill="#00FF7F"/>
<rect x="1001" y="492" width="1" height="2" fill="#00FF7F"/>
<rect x="1000" y="492" width="3" height="2" fill="#00FF7F"/>
<rect x="1005" y="484" width="1" height="40" fill="#FF0000"/>
<rect x="1004" y="491" width="3" height="30" fill="#FF0000"/>
<rect x="1009" y="467" width="1" height="26" fill="#FF0000"/>
<rect x="1008" y="470" width="3" height="22" fill="#FF0000"/>
<rect x="1013" y="474" width="1" height="5" fill="#FF0000"/>
<rect x="1012" y="476" width="3" height="3" fill="#FF0000"/>
<rect x="1017" y="474" width="1" height="30" fill="#00FF7F"/>
<rect x="1016" y="475" width="3" height="26" fill="#00FF7F"/>
<rect x="1021" y="481" width="1" height="27" fill="#00FF7F"/>
<rect x="1020" y="501" width="3" height="4" fill="#00FF7F"/>
<rect x="1025" y="487" width="1" height="31" fill="#00FF7F"/>
<rect x="1024" y="504" width="3" height="8" fill="#00FF7F"/>
<rect x="1029" y="467" width="1" height="50" fill="#FF0000"/>
<rect x="1028" y="477" width="3" height="35" fill="#FF0000"/>
<rect x="1033" y="438" width="1" height="40" fill="#FF0000"/>
<rect x="1032" y="447" width="3" height="30" fill="#FF0000"/>
<rect x="1037" y="448" width="1" height="7" fill="#FF0000"/>
<rect x="1036" y="449" width="3" height="3" fill="#FF0000"/>
<rect x="1041" y="448" width="1" height="34" fill="#00FF7F"/>
<rect x="1040" y="448" width="3" height="18" fill="#00FF7F"/>
<rect x="1045" y="456" width="1" height="36" fill="#00FF7F"/>
<rect x="1044" y="468" width="3" height="12" fill="#00FF7F"/>
<rect x="1049" y="475" width="1" height="33" fill="#FF0000"/>
<rect x="1048" y="480" width="3" height="3" fill="#FF0000"/>
<rect x="1053" y="420" width="1" height="62" fill="#FF0000"/>
<rect x="1052" y="427" width="3" height="55" fill="#FF0000"/>
<rect x="1057" y="404" width="1" height="24" fill="#FF0000"/>
<rect x="1056" y="404" width="3" height="24" fill="#FF0000"/>
<rect x="1061" y="406" width="1" height="5" fill="#FF0000"/>
<rect x="1060" y="408" width="3" height="3" fill="#FF0000"/>
<rect x="1065" y="382" width="1" height="27" fill="#FF0000"/>
<rect x="1064" y="390" width="3" height="19" fill="#FF0000"/>
<rect x="1069" y="380" width="1" height="27" fill="#00FF7F"/>
<rect x="1068" y="390" width="3" height="9" fill="#00FF7F"/>
<rect x="1073" y="398" width="1" height="21" fill="#00FF7F"/>
<rect x="1072" y="398" width="3" height="9" fill="#00FF7F"/>
<rect x="1077" y="401" width="1" height="37" fill="#00FF7F"/>
<rect x="1076" y="407" width="3" height="28" fill="#00FF7F"/>
<rect x="1081" y="417" width="1" height="22" fill="#FF0000"/>
<rect x="1080" y="431" width="3" height="4" fill="#FF0000"/>
<rect x="1085" y="428" width="1" height="2" fill="#FF0000"/>
<rect x="1084" y="428" width="3" height="2" fill="#FF0000"/>
<rect x="1089" y="410" width="1" height="28" fill="#FF0000"/>
<rect x="1088" y="416" width="3" height="14" fill="#FF0000"/>
<rect x="1093" y="389" width="1" height="27" fill="#FF0000"/>
<rect x="1092" y="402" width="3" height="14" fill="#FF0000"/>
<rect x="1097" y="367" width="1" height="40" fill="#FF0000"/>
<rect x="1096" y="369" width="3" height="33" fill="#FF0000"/>
<rect x="1101" y="343" width="1" height="37" fill="#00FF7F"/>
<rect x="1100" y="367" width="3" height="6" fill="#00FF7F"/>
<rect x="1105" y="350" width="1" height="30" fill="#FF0000"/>
<rect x="1104" y="360" width="3" height="13" fill="#FF0000"/>
<rect x="1109" y="354" width="1" height="6" fill="#FF0000"/>
<rect x="1108" y="354" width="3" height="6" fill="#FF0000"/>
<rect x="1113" y="346" width="1" height="39" fill="#00FF7F"/>
<rect x="1112" y="354" width="3" height="21" fill="#00FF7F"/>
<rect x="1117" y="344" width="1" height="41" fill="#FF0000"/>
<rect x="1116" y="374" width="3" height="2" fill="#FF0000"/>
<rect x="1121" y="360" width="1" height="32" fill="#00FF7F"/>
<rect x="1120" y="375" width="3" height="10" fill="#00FF7F"/>
<rect x="1125" y="356" width="1" height="41" fill="#FF0000"/>
<rect x="1124" y="367" width="3" height="18" fill="#FF0000"/>
<rect x="1129" y="361" width="1" height="21" fill="#00FF7F"/>
<rect x="1128" y="367" width="3" height="12" fill="#00FF7F"/>
</g>
<g shape-rendering="crispEdges">
<polyline points="5.5,81.4 9.5,84.3 13.5,86.5 17.5,89.0 21.5,94.1 25.5,100.0 29.5,109.0 33.5,118.4 37.5,128.8 41.5,140.0 45.5,148.6 49.5,159.5 53.5,168.7 57.5,177.5 61.5,187.4 65.5,194.0 69.5,204.2 73.5,211.0 77.5,213.5 81.5,217.2 85.5,221.4 89.5,221.9 93.5,221.9 97.5,221.5 101.5,220.8 105.5,217.4 109.5,214.3 113.5,208.1 117.5,203.5 121.5,197.7 125.5,193.1 129.5,189.8 133.5,185.0 137.5,182.3 141.5,178.4 145.5,176.3 149.5,171.3 153.5,161.4 157.5,155.3 161.5,153.8 165.5,149.9 169.5,144.7 173.5,140.6 177.5,137.7 181.5,136.8 185.5,135.4 189.5,138.9 193.5,142.8 197.5,147.5 201.5,150.2 205.5,155.0 209.5,157.4 213.5,160.1 217.5,162.1 221.5,161.4 225.5,161.5 229.5,159.9 233.5,160.3 237.5,160.7 241.5,162.9 245.5,163.7 249.5,166.4 253.5,170.4 257.5,173.5 261.5,177.5 265.5,181.6 269.5,188.1 273.5,188.5 277.5,188.7 281.5,188.6 285.5,191.3 289.5,192.7 293.5,194.9 297.5,196.9 301.5,198.2 305.5,201.1 309.5,203.4 313.5,205.8 317.5,209.0 321.5,212.2 325.5,212.6 329.5,214.3 333.5,215.2 337.5,217.7 341.5,221.9 345.5,224.5 349.5,224.0 353.5,221.5 357.5,222.2 361.5,222.5 365.5,222.1 369.5,218.9 373.5,215.6 377.5,215.3 381.5,212.3 385.5,210.8 389.5,209.2 393.5,208.6 397.5,206.6 401.5,204.9 405.5,201.7 409.5,200.9 413.5,197.7 417.5,196.3 421.5,193.7 425.5,190.6 429.5,187.1 433.5,185.9 437.5,185.5 441.5,183.6 445.5,183.0 449.5,186.3 453.5,189.9 457.5,192.6 461.5,193.2 465.5,195.5 469.5,197.9 473.5,201.3 477.5,205.5 481.5,209.5 485.5,215.4 489.5,222.0 493.5,226.3 497.5,233.3 501.5,240.3 505.5,247.0 509.5,253.8 513.5,262.6 517.5,270.5 521.5,279.0 525.5,288.3 529.5,297.0 533.5,301.3 537.5,305.0 541.5,310.9 545.5,317.3 549.5,323.3 553.5,327.8 557.5,331.0 561.5,333.8 565.5,337.3 569.5,339.5 573.5,342.8 577.5,345.5 581.5,347.9 585.5,348.5 589.5,348.8 593.5,349.3 597.5,348.1 601.5,345.5 605.5,342.9 609.5,340.3 613.5,336.7 617.5,335.6 621.5,336.0 625.5,336.7 629.5,336.6 633.5,338.3 637.5,340.2 641.5,341.9 645.5,341.8 649.5,341.7 653.5,340.5 657.5,338.2 661.5,337.4 665.5,335.2 669.5,333.9 673.5,332.8 677.5,330.7 681.5,331.2 685.5,331.5 689.5,330.2 693.5,327.7 697.5,326.9 701.5,325.0 705.5,322.7 709.5,320.4 713.5,317.3 717.5,312.7 721.5,307.3 725.5,302.3 729.5,297.8 733.5,294.5 737.5,292.1 741.5,288.2 745.5,285.1 749.5,282.9 753.5,282.0 757.5,283.0 761.5,284.7 765.5,285.2 769.5,288.7 773.5,293.4 777.5,298.2 781.5,302.3 785.5,307.5 789.5,314.2 793.5,319.2 797.5,325.6 801.5,333.6 805.5,343.6 809.5,353.6 813.5,362.3 817.5,370.8 821.5,379.7 825.5,391.6 829.5,400.9 833.5,411.9 837.5,421.7 841.5,429.7 845.5,437.0 849.5,444.5 853.5,449.5 857.5,454.2 861.5,459.6 865.5,464.3 869.5,469.6 873.5,470.6 877.5,472.2 881.5,474.1 885.5,475.2 889.5,476.5 893.5,477.7 897.5,481.5 901.5,482.6 905.5,481.7 909.5,479.5 913.5,477.6 917.5,474.2 921.5,470.6 925.5,467.8 929.5,464.4 933.5,460.3 937.5,456.2 941.5,452.6 945.5,448.6 949.5,444.2 953.5,439.8 957.5,438.9 961.5,438.5 965.5,437.4 969.5,435.9 973.5,433.2 977.5,432.1 981.5,430.5 985.5,430.6 989.5,431.9 993.5,434.3 997.5,439.7 1001.5,443.6 1005.5,448.2 1009.5,451.5 1013.5,455.8 1017.5,460.8 1021.5,466.7 1025.5,472.8 1029.5,476.6 1033.5,479.1 1037.5,480.1 1041.5,480.7 1045.5,480.9 1049.5,481.2 1053.5,479.3 1057.5,477.2 1061.5,473.6 1065.5,469.1 1069.5,465.3 1073.5,462.0 1077.5,459.5 1081.5,455.3 1085.5,452.2 1089.5,448.6 1093.5,445.4 1097.5,440.3 1101.5,434.1 1105.5,427.2 1109.5,419.7 1113.5,414.8 1117.5,411.4 1121.5,408.4 1125.5,403.6 1129.5,398.8" fill="none" stroke="#FFFF00" stroke-width="1"/><polyline points="5.5,83.5 9.5,91.2 13.5,100.6 17.5,106.9 21.5,118.7 25.5,128.7 29.5,141.8 33.5,156.0 37.5,166.5 41.5,174.4 45.5,180.7 49.5,189.2 53.5,199.2 57.5,211.1 61.5,219.1 65.5,226.4 69.5,241.3 73.5,251.8 77.5,251.5 81.5,251.0 85.5,245.4 89.5,238.7 93.5,230.9 97.5,222.8 101.5,215.2 105.5,205.7 109.5,197.1 113.5,187.8 117.5,180.2 121.5,172.1 125.5,157.8 129.5,148.8 133.5,146.5 137.5,146.8 141.5,146.6 145.5,150.8 149.5,150.6 153.5,151.1 157.5,153.5 161.5,156.1 165.5,154.4 169.5,150.3 173.5,144.4 177.5,140.9 181.5,138.3 185.5,133.7 189.5,136.4 193.5,137.9 197.5,141.5 201.5,140.9 205.5,147.6 209.5,151.8 213.5,156.1 217.5,159.0 221.5,164.0 225.5,171.6 229.5,179.8 233.5,184.6 237.5,187.0 241.5,194.8 245.5,193.3 249.5,189.7 253.5,184.7 257.5,179.4 261.5,174.5 265.5,174.7 269.5,175.8 273.5,176.0 277.5,178.8 281.5,182.2 285.5,187.9 289.5,196.2 293.5,203.1 297.5,207.1 301.5,210.7 305.5,216.2 309.5,221.1 313.5,228.2 317.5,231.8 321.5,232.9 325.5,231.4 329.5,232.0 333.5,229.4 337.5,228.4 341.5,225.5 345.5,222.2 349.5,218.3 353.5,212.6 357.5,212.0 361.5,210.8 365.5,210.2 369.5,207.6 373.5,206.2 377.5,207.8 381.5,206.7 385.5,205.5 389.5,207.3 393.5,207.4 397.5,205.2 401.5,202.5 405.5,199.5 409.5,200.4 413.5,195.3 417.5,190.2 421.5,185.9 425.5,183.0 429.5,179.3 433.5,174.2 437.5,172.5 441.5,171.1 445.5,171.5 449.5,176.7 453.5,182.6 457.5,187.7 461.5,194.9 465.5,198.7 469.5,205.8 473.5,214.8 477.5,225.1 481.5,233.5 485.5,244.9 489.5,253.7 493.5,261.7 497.5,269.9 501.5,276.1 505.5,277.0 509.5,278.8 513.5,284.3 517.5,290.3 521.5,297.7 525.5,306.7 529.5,315.1 533.5,320.4 537.5,325.9 541.5,331.1 545.5,337.8 549.5,344.1 553.5,347.5 557.5,350.9 561.5,355.3 565.5,358.7 569.5,360.3 573.5,362.1 577.5,361.4 581.5,359.3 585.5,353.3 589.5,348.2 593.5,345.4 597.5,340.1 601.5,332.7 605.5,327.1 609.5,325.4 613.5,323.7 617.5,323.1 621.5,324.0 625.5,326.8 629.5,328.4 633.5,333.4 637.5,336.1 641.5,340.9 645.5,344.9 649.5,347.3 653.5,348.8 657.5,351.1 661.5,353.2 665.5,351.7 669.5,349.0 673.5,343.8 677.5,337.5 681.5,331.8 685.5,325.1 689.5,314.9 693.5,306.7 697.5,301.2 701.5,297.9 705.5,295.4 709.5,296.7 713.5,297.0 717.5,296.3 721.5,294.2 725.5,293.5 729.5,292.5 733.5,292.9 737.5,290.3 741.5,286.2 745.5,285.5 749.5,284.4 753.5,281.7 757.5,280.9 761.5,280.6 765.5,279.1 769.5,282.2 773.5,285.9 777.5,293.1 781.5,301.3 785.5,312.4 789.5,325.0 793.5,337.2 797.5,353.1 801.5,369.1 805.5,385.3 809.5,400.8 813.5,411.3 817.5,422.0 821.5,432.0 825.5,440.6 829.5,446.7 833.5,455.0 837.5,460.8 841.5,464.3 845.5,464.8 849.5,467.0 853.5,468.0 857.5,466.7 861.5,467.1 865.5,467.3 869.5,473.3 873.5,474.6 877.5,475.9 881.5,476.9 885.5,480.5 889.5,482.1 893.5,484.8 897.5,489.0 901.5,490.3 905.5,487.8 909.5,485.6 913.5,481.9 917.5,476.8 921.5,470.4 925.5,461.7 929.5,455.6 933.5,449.3 937.5,441.1 941.5,432.9 945.5,425.3 949.5,417.2 953.5,410.8 957.5,409.1 961.5,411.1 965.5,413.7 969.5,418.0 973.5,420.6 977.5,426.9 981.5,433.0 985.5,439.5 989.5,445.3 993.5,452.8 997.5,462.4 1001.5,469.4 1005.5,476.4 1009.5,479.3 1013.5,480.9 1017.5,482.7 1021.5,485.1 1025.5,488.2 1029.5,490.3 1033.5,487.7 1037.5,485.1 1041.5,484.3 1045.5,484.5 1049.5,484.1 1053.5,477.4 1057.5,470.9 1061.5,465.0 1065.5,459.3 1069.5,453.8 1073.5,447.0 1077.5,442.0 1081.5,436.2 1085.5,432.8 1089.5,430.6 1093.5,427.2 1097.5,420.3 1101.5,412.6 1105.5,404.0 1109.5,398.8 1113.5,396.8 1117.5,394.4 1121.5,394.1 1125.5,391.8 1129.5,389.7" fill="none" stroke="#FF0000" stroke-width="1"/><polyline points="5.5,123.8 9.5,129.1 13.5,130.0 17.5,129.5 21.5,137.4 25.5,149.6 29.5,173.4 33.5,188.2 37.5,203.9 41.5,218.7 45.5,232.0 49.5,240.9 53.5,248.7 57.5,248.8 61.5,250.1 65.5,249.0 69.5,263.9 73.5,271.6 77.5,262.1 81.5,253.3 85.5,242.0 89.5,227.4 93.5,212.7 97.5,181.8 101.5,158.8 105.5,149.2 109.5,140.8 113.5,133.6 117.5,133.0 121.5,131.4 125.5,133.7 129.5,138.9 133.5,143.8 137.5,152.7 141.5,159.5 145.5,168.6 149.5,169.8 153.5,168.5 157.5,168.1 161.5,168.4 165.5,156.2 169.5,141.1 173.5,120.2 177.5,111.9 181.5,108.1 185.5,99.3 189.5,104.5 193.5,119.6 197.5,141.8 201.5,161.6 205.5,183.3 209.5,195.5 213.5,212.9 217.5,213.5 221.5,208.3 225.5,201.4 229.5,197.9 233.5,185.8 237.5,178.5 241.5,176.6 245.5,173.1 249.5,171.1 253.5,167.9 257.5,161.0 261.5,163.2 265.5,170.9 269.5,174.9 273.5,178.9 277.5,186.6 281.5,196.4 285.5,214.9 289.5,229.2 293.5,235.3 297.5,239.3 301.5,242.5 305.5,245.7 309.5,245.7 313.5,241.6 317.5,234.5 321.5,230.5 325.5,223.4 329.5,221.5 333.5,213.2 337.5,211.0 341.5,209.3 345.5,209.9 349.5,206.2 353.5,201.8 357.5,202.5 361.5,208.5 365.5,209.4 369.5,205.9 373.5,202.6 377.5,209.3 381.5,211.5 385.5,208.5 389.5,206.0 393.5,205.5 397.5,204.5 401.5,202.4 405.5,189.7 409.5,189.3 413.5,182.0 417.5,174.4 421.5,166.3 425.5,161.5 429.5,156.3 433.5,158.7 437.5,155.7 441.5,160.2 445.5,168.7 449.5,187.0 453.5,203.8 457.5,219.2 461.5,231.1 465.5,241.6 469.5,251.4 473.5,260.8 477.5,263.2 481.5,263.2 485.5,270.7 489.5,276.3 493.5,281.7 497.5,288.3 501.5,291.3 505.5,290.8 509.5,294.5 513.5,298.0 517.5,304.3 521.5,313.6 525.5,325.0 529.5,338.9 533.5,350.0 537.5,357.2 541.5,364.1 545.5,371.3 549.5,374.6 553.5,370.0 557.5,362.8 561.5,360.6 565.5,360.1 569.5,356.5 573.5,353.0 577.5,348.2 581.5,348.6 585.5,343.8 589.5,335.7 593.5,330.6 597.5,323.7 601.5,312.4 605.5,305.9 609.5,302.3 613.5,303.5 617.5,310.6 621.5,317.3 625.5,329.9 629.5,344.4 633.5,360.9 637.5,369.8 641.5,378.3 645.5,379.1 649.5,377.3 653.5,367.7 657.5,357.8 661.5,345.5 665.5,333.6 669.5,319.8 673.5,308.6 677.5,297.6 681.5,295.8 685.5,292.4 689.5,284.3 693.5,279.8 697.5,282.7 701.5,287.2 705.5,293.1 709.5,297.5 713.5,301.7 717.5,308.4 721.5,308.5 725.5,304.4 729.5,297.7 733.5,292.6 737.5,283.1 741.5,270.7 745.5,262.6 749.5,260.4 753.5,259.1 757.5,264.1 761.5,268.5 765.5,275.1 769.5,293.7 773.5,309.3 777.5,325.8 781.5,343.5 785.5,360.6 789.5,381.5 793.5,399.3 797.5,412.6 801.5,429.0 805.5,444.7 809.5,458.2 813.5,462.1 817.5,462.5 821.5,464.6 825.5,468.6 829.5,464.4 833.5,465.2 837.5,463.4 841.5,466.5 845.5,467.2 849.5,469.4 853.5,467.4 857.5,469.0 861.5,468.9 865.5,471.2 869.5,480.2 873.5,482.0 877.5,482.4 881.5,486.4 885.5,492.0 889.5,495.2 893.5,498.3 897.5,497.7 901.5,498.5 905.5,493.3 909.5,484.9 913.5,471.8 917.5,458.4 921.5,442.4 925.5,425.6 929.5,412.7 933.5,405.3 937.5,397.4 941.5,394.1 945.5,392.2 949.5,392.0 953.5,396.0 957.5,405.6 961.5,417.0 965.5,430.0 969.5,441.8 973.5,449.0 977.5,461.9 981.5,470.0 985.5,473.4 989.5,473.5 993.5,475.6 997.5,483.1 1001.5,489.7 1005.5,490.8 1009.5,488.7 1013.5,488.4 1017.5,492.0 1021.5,494.6 1025.5,493.4 1029.5,490.9 1033.5,484.6 1037.5,481.6 1041.5,480.2 1045.5,477.1 1049.5,473.5 1053.5,461.3 1057.5,450.9 1061.5,445.3 1065.5,437.0 1069.5,427.3 1073.5,417.0 1077.5,410.5 1081.5,411.2 1085.5,414.7 1089.5,415.8 1093.5,417.5 1097.5,413.3 1101.5,408.3 1105.5,397.6 1109.5,386.5 1113.5,378.9 1117.5,373.0 1121.5,370.6 1125.5,370.3 1129.5,371.2" fill="none" stroke="#0000CD" stroke-width="1"/>
</g>
<g shape-rendering="crispEdges">
<!-- left frame -->
<rect x="0" y="19" width="1" height="806" fill="#A0A0A0"/>
<rect x="1" y="20" width="1" height="805" fill="#696969"/>
<!-- chart borders -->
<rect x="4" y="23" width="1459" height="1" fill="#000"/>
<rect x="4" y="23" width="1" height="541" fill="#000"/>
<rect x="4" y="563" width="1417" height="1" fill="#000"/>
<rect x="1420" y="23" width="1" height="541" fill="#000"/>
<rect x="4" y="565" width="1417" height="1" fill="#000"/>
<rect x="4" y="565" width="1" height="105" fill="#000"/>
<rect x="1420" y="565" width="1" height="105" fill="#000"/>
<rect x="4" y="669" width="1417" height="1" fill="#000"/>
<rect x="4" y="671" width="1417" height="1" fill="#000"/>
<rect x="4" y="671" width="1" height="131" fill="#000"/>
<rect x="1420" y="671" width="1" height="131" fill="#000"/>
<rect x="4" y="801" width="1417" height="1" fill="#000"/>
</g>
<g shape-rendering="crispEdges">
<rect x="5" y="284" width="1415" height="3" fill="#FF0000"/><rect x="1422" y="279" width="41" height="11" fill="#FF0000"/><rect x="5" y="364" width="1415" height="3" fill="#FF0000"/><rect x="4" y="362" width="7" height="7" fill="#FF0000"/><rect x="7" y="365" width="1" height="1" fill="#fff"/><rect x="1414" y="362" width="7" height="7" fill="#FF0000"/><rect x="1417" y="365" width="1" height="1" fill="#fff"/><rect x="1422" y="359" width="41" height="11" fill="#FF0000"/><rect x="5" y="444" width="1415" height="3" fill="#00FF00"/><rect x="4" y="442" width="7" height="7" fill="#00FF00"/><rect x="7" y="445" width="1" height="1" fill="#fff"/><rect x="1414" y="442" width="7" height="7" fill="#00FF00"/><rect x="1417" y="445" width="1" height="1" fill="#fff"/><rect x="1422" y="439" width="41" height="11" fill="#00FF00"/><rect x="5" y="548" width="1415" height="3" fill="#0000FF"/><rect x="4" y="546" width="7" height="7" fill="#0000FF"/><rect x="7" y="549" width="1" height="1" fill="#fff"/><rect x="1414" y="546" width="7" height="7" fill="#0000FF"/><rect x="1417" y="549" width="1" height="1" fill="#fff"/><rect x="1422" y="543" width="41" height="11" fill="#0000FF"/><rect x="1422" y="374" width="41" height="11" fill="#000"/>
</g>
<g shape-rendering="crispEdges">
<rect x="5" y="603" width="1" height="8" fill="#C0C0C0"/>
<rect x="9" y="603" width="1" height="12" fill="#C0C0C0"/>
<rect x="13" y="603" width="1" height="14" fill="#C0C0C0"/>
<rect x="17" y="603" width="1" height="15" fill="#C0C0C0"/>
<rect x="21" y="603" width="1" height="22" fill="#C0C0C0"/>
<rect x="25" y="603" width="1" height="27" fill="#C0C0C0"/>
<rect x="29" y="603" width="1" height="36" fill="#C0C0C0"/>
<rect x="33" y="603" width="1" height="43" fill="#C0C0C0"/>
<rect x="37" y="603" width="1" height="48" fill="#C0C0C0"/>
<rect x="41" y="603" width="1" height="51" fill="#C0C0C0"/>
<rect x="45" y="603" width="1" height="51" fill="#C0C0C0"/>
<rect x="49" y="603" width="1" height="53" fill="#C0C0C0"/>
<rect x="53" y="603" width="1" height="53" fill="#C0C0C0"/>
<rect x="57" y="603" width="1" height="53" fill="#C0C0C0"/>
<rect x="61" y="603" width="1" height="53" fill="#C0C0C0"/>
<rect x="65" y="603" width="1" height="51" fill="#C0C0C0"/>
<rect x="69" y="603" width="1" height="60" fill="#C0C0C0"/>
<rect x="73" y="603" width="1" height="59" fill="#C0C0C0"/>
<rect x="77" y="603" width="1" height="48" fill="#C0C0C0"/>
<rect x="81" y="603" width="1" height="39" fill="#C0C0C0"/>
<rect x="85" y="603" width="1" height="30" fill="#C0C0C0"/>
<rect x="89" y="603" width="1" height="20" fill="#C0C0C0"/>
<rect x="93" y="603" width="1" height="12" fill="#C0C0C0"/>
<rect x="97" y="603" width="1" height="4" fill="#C0C0C0"/>
<rect x="101" y="599" width="1" height="5" fill="#C0C0C0"/>
<rect x="105" y="594" width="1" height="10" fill="#C0C0C0"/>
<rect x="109" y="590" width="1" height="14" fill="#C0C0C0"/>
<rect x="113" y="586" width="1" height="18" fill="#C0C0C0"/>
<rect x="117" y="586" width="1" height="18" fill="#C0C0C0"/>
<rect x="121" y="585" width="1" height="19" fill="#C0C0C0"/>
<rect x="125" y="586" width="1" height="18" fill="#C0C0C0"/>
<rect x="129" y="588" width="1" height="16" fill="#C0C0C0"/>
<rect x="133" y="590" width="1" height="14" fill="#C0C0C0"/>
<rect x="137" y="594" width="1" height="10" fill="#C0C0C0"/>
<rect x="141" y="596" width="1" height="8" fill="#C0C0C0"/>
<rect x="145" y="601" width="1" height="3" fill="#C0C0C0"/>
<rect x="149" y="599" width="1" height="5" fill="#C0C0C0"/>
<rect x="153" y="597" width="1" height="7" fill="#C0C0C0"/>
<rect x="157" y="596" width="1" height="8" fill="#C0C0C0"/>
<rect x="161" y="597" width="1" height="7" fill="#C0C0C0"/>
<rect x="165" y="592" width="1" height="12" fill="#C0C0C0"/>
<rect x="169" y="583" width="1" height="21" fill="#C0C0C0"/>
<rect x="173" y="578" width="1" height="26" fill="#C0C0C0"/>
<rect x="177" y="575" width="1" height="29" fill="#C0C0C0"/>
<rect x="181" y="577" width="1" height="27" fill="#C0C0C0"/>
<rect x="185" y="576" width="1" height="28" fill="#C0C0C0"/>
<rect x="189" y="586" width="1" height="18" fill="#C0C0C0"/>
<rect x="193" y="596" width="1" height="8" fill="#C0C0C0"/>
<rect x="197" y="603" width="1" height="1" fill="#C0C0C0"/>
<rect x="201" y="603" width="1" height="6" fill="#C0C0C0"/>
<rect x="205" y="603" width="1" height="14" fill="#C0C0C0"/>
<rect x="209" y="603" width="1" height="16" fill="#C0C0C0"/>
<rect x="213" y="603" width="1" height="18" fill="#C0C0C0"/>
<rect x="217" y="603" width="1" height="19" fill="#C0C0C0"/>
<rect x="221" y="603" width="1" height="16" fill="#C0C0C0"/>
<rect x="225" y="603" width="1" height="14" fill="#C0C0C0"/>
<rect x="229" y="603" width="1" height="12" fill="#C0C0C0"/>
<rect x="233" y="603" width="1" height="8" fill="#C0C0C0"/>
<rect x="237" y="603" width="1" height="5" fill="#C0C0C0"/>
<rect x="241" y="603" width="1" height="8" fill="#C0C0C0"/>
<rect x="245" y="603" width="1" height="7" fill="#C0C0C0"/>
<rect x="249" y="603" width="1" height="5" fill="#C0C0C0"/>
<rect x="253" y="603" width="1" height="2" fill="#C0C0C0"/>
<rect x="257" y="601" width="1" height="3" fill="#C0C0C0"/>
<rect x="261" y="601" width="1" height="3" fill="#C0C0C0"/>
<rect x="265" y="603" width="1" height="2" fill="#C0C0C0"/>
<rect x="269" y="603" width="1" height="8" fill="#C0C0C0"/>
<rect x="273" y="603" width="1" height="10" fill="#C0C0C0"/>
<rect x="277" y="603" width="1" height="12" fill="#C0C0C0"/>
<rect x="281" y="603" width="1" height="14" fill="#C0C0C0"/>
<rect x="285" y="603" width="1" height="20" fill="#C0C0C0"/>
<rect x="289" y="603" width="1" height="25" fill="#C0C0C0"/>
<rect x="293" y="603" width="1" height="27" fill="#C0C0C0"/>
<rect x="297" y="603" width="1" height="29" fill="#C0C0C0"/>
<rect x="301" y="603" width="1" height="27" fill="#C0C0C0"/>
<rect x="305" y="603" width="1" height="26" fill="#C0C0C0"/>
<rect x="309" y="603" width="1" height="23" fill="#C0C0C0"/>
<rect x="313" y="603" width="1" height="22" fill="#C0C0C0"/>
<rect x="317" y="603" width="1" height="20" fill="#C0C0C0"/>
<rect x="321" y="603" width="1" height="18" fill="#C0C0C0"/>
<rect x="325" y="603" width="1" height="15" fill="#C0C0C0"/>
<rect x="329" y="603" width="1" height="13" fill="#C0C0C0"/>
<rect x="333" y="603" width="1" height="8" fill="#C0C0C0"/>
<rect x="337" y="603" width="1" height="6" fill="#C0C0C0"/>
<rect x="341" y="603" width="1" height="6" fill="#C0C0C0"/>
<rect x="345" y="603" width="1" height="7" fill="#C0C0C0"/>
<rect x="349" y="603" width="1" height="4" fill="#C0C0C0"/>
<rect x="353" y="603" width="1" height="1" fill="#C0C0C0"/>
<rect x="357" y="603" width="1" height="1" fill="#C0C0C0"/>
<rect x="361" y="603" width="1" height="3" fill="#C0C0C0"/>
<rect x="365" y="603" width="1" height="2" fill="#C0C0C0"/>
<rect x="369" y="603" width="1" height="1" fill="#C0C0C0"/>
<rect x="373" y="603" width="1" height="1" fill="#C0C0C0"/>
<rect x="377" y="603" width="1" height="3" fill="#C0C0C0"/>
<rect x="381" y="603" width="1" height="1" fill="#C0C0C0"/>
<rect x="385" y="603" width="1" height="1" fill="#C0C0C0"/>
<rect x="389" y="603" width="1" height="1" fill="#C0C0C0"/>
<rect x="393" y="602" width="1" height="2" fill="#C0C0C0"/>
<rect x="397" y="601" width="1" height="3" fill="#C0C0C0"/>
<rect x="401" y="599" width="1" height="5" fill="#C0C0C0"/>
<rect x="405" y="594" width="1" height="10" fill="#C0C0C0"/>
<rect x="409" y="594" width="1" height="10" fill="#C0C0C0"/>
<rect x="413" y="591" width="1" height="13" fill="#C0C0C0"/>
<rect x="417" y="588" width="1" height="16" fill="#C0C0C0"/>
<rect x="421" y="586" width="1" height="18" fill="#C0C0C0"/>
<rect x="425" y="585" width="1" height="19" fill="#C0C0C0"/>
<rect x="429" y="584" width="1" height="20" fill="#C0C0C0"/>
<rect x="433" y="585" width="1" height="19" fill="#C0C0C0"/>
<rect x="437" y="587" width="1" height="17" fill="#C0C0C0"/>
<rect x="441" y="589" width="1" height="15" fill="#C0C0C0"/>
<rect x="445" y="594" width="1" height="10" fill="#C0C0C0"/>
<rect x="449" y="603" width="1" height="2" fill="#C0C0C0"/>
<rect x="453" y="603" width="1" height="10" fill="#C0C0C0"/>
<rect x="457" y="603" width="1" height="14" fill="#C0C0C0"/>
<rect x="461" y="603" width="1" height="17" fill="#C0C0C0"/>
<rect x="465" y="603" width="1" height="19" fill="#C0C0C0"/>
<rect x="469" y="603" width="1" height="20" fill="#C0C0C0"/>
<rect x="473" y="603" width="1" height="23" fill="#C0C0C0"/>
<rect x="477" y="603" width="1" height="28" fill="#C0C0C0"/>
<rect x="481" y="603" width="1" height="29" fill="#C0C0C0"/>
<rect x="485" y="603" width="1" height="33" fill="#C0C0C0"/>
<rect x="489" y="603" width="1" height="34" fill="#C0C0C0"/>
<rect x="493" y="603" width="1" height="33" fill="#C0C0C0"/>
<rect x="497" y="603" width="1" height="34" fill="#C0C0C0"/>
<rect x="501" y="603" width="1" height="34" fill="#C0C0C0"/>
<rect x="505" y="603" width="1" height="33" fill="#C0C0C0"/>
<rect x="509" y="603" width="1" height="33" fill="#C0C0C0"/>
<rect x="513" y="603" width="1" height="36" fill="#C0C0C0"/>
<rect x="517" y="603" width="1" height="38" fill="#C0C0C0"/>
<rect x="521" y="603" width="1" height="40" fill="#C0C0C0"/>
<rect x="525" y="603" width="1" height="45" fill="#C0C0C0"/>
<rect x="529" y="603" width="1" height="49" fill="#C0C0C0"/>
<rect x="533" y="603" width="1" height="50" fill="#C0C0C0"/>
<rect x="537" y="603" width="1" height="48" fill="#C0C0C0"/>
<rect x="541" y="603" width="1" height="49" fill="#C0C0C0"/>
<rect x="545" y="603" width="1" height="50" fill="#C0C0C0"/>
<rect x="549" y="603" width="1" height="48" fill="#C0C0C0"/>
<rect x="553" y="603" width="1" height="44" fill="#C0C0C0"/>
<rect x="557" y="603" width="1" height="40" fill="#C0C0C0"/>
<rect x="561" y="603" width="1" height="37" fill="#C0C0C0"/>
<rect x="565" y="603" width="1" height="34" fill="#C0C0C0"/>
<rect x="569" y="603" width="1" height="32" fill="#C0C0C0"/>
<rect x="573" y="603" width="1" height="31" fill="#C0C0C0"/>
<rect x="577" y="603" width="1" height="27" fill="#C0C0C0"/>
<rect x="581" y="603" width="1" height="24" fill="#C0C0C0"/>
<rect x="585" y="603" width="1" height="19" fill="#C0C0C0"/>
<rect x="589" y="603" width="1" height="12" fill="#C0C0C0"/>
<rect x="593" y="603" width="1" height="9" fill="#C0C0C0"/>
<rect x="597" y="603" width="1" height="6" fill="#C0C0C0"/>
<rect x="601" y="603" width="1" height="1" fill="#C0C0C0"/>
<rect x="605" y="601" width="1" height="3" fill="#C0C0C0"/>
<rect x="609" y="601" width="1" height="3" fill="#C0C0C0"/>
<rect x="613" y="602" width="1" height="2" fill="#C0C0C0"/>
<rect x="617" y="603" width="1" height="1" fill="#C0C0C0"/>
<rect x="621" y="603" width="1" height="5" fill="#C0C0C0"/>
<rect x="625" y="603" width="1" height="12" fill="#C0C0C0"/>
<rect x="629" y="603" width="1" height="15" fill="#C0C0C0"/>
<rect x="633" y="603" width="1" height="21" fill="#C0C0C0"/>
<rect x="637" y="603" width="1" height="22" fill="#C0C0C0"/>
<rect x="641" y="603" width="1" height="22" fill="#C0C0C0"/>
<rect x="645" y="603" width="1" height="19" fill="#C0C0C0"/>
<rect x="649" y="603" width="1" height="17" fill="#C0C0C0"/>
<rect x="653" y="603" width="1" height="12" fill="#C0C0C0"/>
<rect x="657" y="603" width="1" height="8" fill="#C0C0C0"/>
<rect x="661" y="603" width="1" height="4" fill="#C0C0C0"/>
<rect x="665" y="602" width="1" height="2" fill="#C0C0C0"/>
<rect x="669" y="597" width="1" height="7" fill="#C0C0C0"/>
<rect x="673" y="592" width="1" height="12" fill="#C0C0C0"/>
<rect x="677" y="587" width="1" height="17" fill="#C0C0C0"/>
<rect x="681" y="589" width="1" height="15" fill="#C0C0C0"/>
<rect x="685" y="588" width="1" height="16" fill="#C0C0C0"/>
<rect x="689" y="584" width="1" height="20" fill="#C0C0C0"/>
<rect x="693" y="582" width="1" height="22" fill="#C0C0C0"/>
<rect x="697" y="584" width="1" height="20" fill="#C0C0C0"/>
<rect x="701" y="586" width="1" height="18" fill="#C0C0C0"/>
<rect x="705" y="589" width="1" height="15" fill="#C0C0C0"/>
<rect x="709" y="595" width="1" height="9" fill="#C0C0C0"/>
<rect x="713" y="596" width="1" height="8" fill="#C0C0C0"/>
<rect x="717" y="597" width="1" height="7" fill="#C0C0C0"/>
<rect x="721" y="593" width="1" height="11" fill="#C0C0C0"/>
<rect x="725" y="591" width="1" height="13" fill="#C0C0C0"/>
<rect x="729" y="588" width="1" height="16" fill="#C0C0C0"/>
<rect x="733" y="587" width="1" height="17" fill="#C0C0C0"/>
<rect x="737" y="587" width="1" height="17" fill="#C0C0C0"/>
<rect x="741" y="583" width="1" height="21" fill="#C0C0C0"/>
<rect x="745" y="582" width="1" height="22" fill="#C0C0C0"/>
<rect x="749" y="581" width="1" height="23" fill="#C0C0C0"/>
<rect x="753" y="582" width="1" height="22" fill="#C0C0C0"/>
<rect x="757" y="585" width="1" height="19" fill="#C0C0C0"/>
<rect x="761" y="590" width="1" height="14" fill="#C0C0C0"/>
<rect x="765" y="596" width="1" height="8" fill="#C0C0C0"/>
<rect x="769" y="603" width="1" height="1" fill="#C0C0C0"/>
<rect x="773" y="603" width="1" height="8" fill="#C0C0C0"/>
<rect x="777" y="603" width="1" height="13" fill="#C0C0C0"/>
<rect x="781" y="603" width="1" height="19" fill="#C0C0C0"/>
<rect x="785" y="603" width="1" height="26" fill="#C0C0C0"/>
<rect x="789" y="603" width="1" height="36" fill="#C0C0C0"/>
<rect x="793" y="603" width="1" height="43" fill="#C0C0C0"/>
<rect x="797" y="603" width="1" height="48" fill="#C0C0C0"/>
<rect x="801" y="603" width="1" height="54" fill="#C0C0C0"/>
<rect x="805" y="603" width="1" height="58" fill="#C0C0C0"/>
<rect x="809" y="603" width="1" height="61" fill="#C0C0C0"/>
<rect x="813" y="603" width="1" height="58" fill="#C0C0C0"/>
<rect x="817" y="603" width="1" height="56" fill="#C0C0C0"/>
<rect x="821" y="603" width="1" height="56" fill="#C0C0C0"/>
<rect x="825" y="603" width="1" height="57" fill="#C0C0C0"/>
<rect x="829" y="603" width="1" height="53" fill="#C0C0C0"/>
<rect x="833" y="603" width="1" height="53" fill="#C0C0C0"/>
<rect x="837" y="603" width="1" height="51" fill="#C0C0C0"/>
<rect x="841" y="603" width="1" height="48" fill="#C0C0C0"/>
<rect x="845" y="603" width="1" height="45" fill="#C0C0C0"/>
<rect x="849" y="603" width="1" height="45" fill="#C0C0C0"/>
<rect x="853" y="603" width="1" height="43" fill="#C0C0C0"/>
<rect x="857" y="603" width="1" height="39" fill="#C0C0C0"/>
<rect x="861" y="603" width="1" height="39" fill="#C0C0C0"/>
<rect x="865" y="603" width="1" height="38" fill="#C0C0C0"/>
<rect x="869" y="603" width="1" height="41" fill="#C0C0C0"/>
<rect x="873" y="603" width="1" height="37" fill="#C0C0C0"/>
<rect x="877" y="603" width="1" height="36" fill="#C0C0C0"/>
<rect x="881" y="603" width="1" height="35" fill="#C0C0C0"/>
<rect x="885" y="603" width="1" height="35" fill="#C0C0C0"/>
<rect x="889" y="603" width="1" height="34" fill="#C0C0C0"/>
<rect x="893" y="603" width="1" height="34" fill="#C0C0C0"/>
<rect x="897" y="603" width="1" height="34" fill="#C0C0C0"/>
<rect x="901" y="603" width="1" height="30" fill="#C0C0C0"/>
<rect x="905" y="603" width="1" height="23" fill="#C0C0C0"/>
<rect x="909" y="603" width="1" height="17" fill="#C0C0C0"/>
<rect x="913" y="603" width="1" height="9" fill="#C0C0C0"/>
<rect x="917" y="603" width="1" height="2" fill="#C0C0C0"/>
<rect x="921" y="599" width="1" height="5" fill="#C0C0C0"/>
<rect x="925" y="594" width="1" height="10" fill="#C0C0C0"/>
<rect x="929" y="589" width="1" height="15" fill="#C0C0C0"/>
<rect x="933" y="587" width="1" height="17" fill="#C0C0C0"/>
<rect x="937" y="583" width="1" height="21" fill="#C0C0C0"/>
<rect x="941" y="581" width="1" height="23" fill="#C0C0C0"/>
<rect x="945" y="581" width="1" height="23" fill="#C0C0C0"/>
<rect x="949" y="581" width="1" height="23" fill="#C0C0C0"/>
<rect x="953" y="584" width="1" height="20" fill="#C0C0C0"/>
<rect x="957" y="590" width="1" height="14" fill="#C0C0C0"/>
<rect x="961" y="597" width="1" height="7" fill="#C0C0C0"/>
<rect x="965" y="602" width="1" height="2" fill="#C0C0C0"/>
<rect x="969" y="603" width="1" height="2" fill="#C0C0C0"/>
<rect x="973" y="603" width="1" height="3" fill="#C0C0C0"/>
<rect x="977" y="603" width="1" height="7" fill="#C0C0C0"/>
<rect x="981" y="603" width="1" height="10" fill="#C0C0C0"/>
<rect x="985" y="603" width="1" height="12" fill="#C0C0C0"/>
<rect x="989" y="603" width="1" height="13" fill="#C0C0C0"/>
<rect x="993" y="603" width="1" height="15" fill="#C0C0C0"/>
<rect x="997" y="603" width="1" height="20" fill="#C0C0C0"/>
<rect x="1001" y="603" width="1" height="20" fill="#C0C0C0"/>
<rect x="1005" y="603" width="1" height="20" fill="#C0C0C0"/>
<rect x="1009" y="603" width="1" height="18" fill="#C0C0C0"/>
<rect x="1013" y="603" width="1" height="17" fill="#C0C0C0"/>
<rect x="1017" y="603" width="1" height="18" fill="#C0C0C0"/>
<rect x="1021" y="603" width="1" height="19" fill="#C0C0C0"/>
<rect x="1025" y="603" width="1" height="20" fill="#C0C0C0"/>
<rect x="1029" y="603" width="1" height="18" fill="#C0C0C0"/>
<rect x="1033" y="603" width="1" height="12" fill="#C0C0C0"/>
<rect x="1037" y="603" width="1" height="8" fill="#C0C0C0"/>
<rect x="1041" y="603" width="1" height="7" fill="#C0C0C0"/>
<rect x="1045" y="603" width="1" height="7" fill="#C0C0C0"/>
<rect x="1049" y="603" width="1" height="7" fill="#C0C0C0"/>
<rect x="1053" y="603" width="1" height="1" fill="#C0C0C0"/>
<rect x="1057" y="598" width="1" height="6" fill="#C0C0C0"/>
<rect x="1061" y="593" width="1" height="11" fill="#C0C0C0"/>
<rect x="1065" y="587" width="1" height="17" fill="#C0C0C0"/>
<rect x="1069" y="584" width="1" height="20" fill="#C0C0C0"/>
<rect x="1073" y="583" width="1" height="21" fill="#C0C0C0"/>
<rect x="1077" y="585" width="1" height="19" fill="#C0C0C0"/>
<rect x="1081" y="586" width="1" height="18" fill="#C0C0C0"/>
<rect x="1085" y="587" width="1" height="17" fill="#C0C0C0"/>
<rect x="1089" y="587" width="1" height="17" fill="#C0C0C0"/>
<rect x="1093" y="585" width="1" height="19" fill="#C0C0C0"/>
<rect x="1097" y="581" width="1" height="23" fill="#C0C0C0"/>
<rect x="1101" y="578" width="1" height="26" fill="#C0C0C0"/>
<rect x="1105" y="575" width="1" height="29" fill="#C0C0C0"/>
<rect x="1109" y="572" width="1" height="32" fill="#C0C0C0"/>
<rect x="1113" y="573" width="1" height="31" fill="#C0C0C0"/>
<rect x="1117" y="573" width="1" height="31" fill="#C0C0C0"/>
<rect x="1121" y="575" width="1" height="29" fill="#C0C0C0"/>
<rect x="1125" y="575" width="1" height="29" fill="#C0C0C0"/>
<rect x="1129" y="576" width="1" height="28" fill="#C0C0C0"/><polyline points="5.5,596.6 9.5,600.7 13.5,604.9 17.5,608.5 21.5,612.0 25.5,615.2 29.5,618.8 33.5,623.0 37.5,628.0 41.5,632.8 45.5,637.2 49.5,641.5 53.5,645.7 57.5,649.2 61.5,652.0 65.5,653.7 69.5,655.6 73.5,656.8 77.5,656.5 81.5,655.2 85.5,652.6 89.5,648.9 93.5,644.3 97.5,638.9 101.5,632.8 105.5,625.1 109.5,617.1 113.5,609.9 117.5,603.7 121.5,598.5 125.5,594.4 129.5,591.4 133.5,589.5 137.5,588.9 141.5,589.1 145.5,590.4 149.5,591.8 153.5,592.9 157.5,594.1 161.5,595.3 165.5,595.7 169.5,595.1 173.5,593.2 177.5,590.9 181.5,588.2 185.5,585.7 189.5,584.5 193.5,584.4 197.5,585.2 201.5,587.2 205.5,590.9 209.5,595.4 213.5,600.5 217.5,605.5 221.5,610.3 225.5,613.7 229.5,615.9 233.5,616.7 237.5,616.6 241.5,615.9 245.5,615.0 249.5,613.5 253.5,611.6 257.5,609.5 261.5,607.8 265.5,606.7 269.5,606.6 273.5,607.2 277.5,607.7 281.5,608.5 285.5,610.2 289.5,612.8 293.5,616.0 297.5,619.4 301.5,622.1 305.5,624.1 309.5,625.6 313.5,626.7 317.5,627.3 321.5,627.0 325.5,625.8 329.5,624.3 333.5,621.9 337.5,619.6 341.5,617.4 345.5,615.5 349.5,613.5 353.5,611.4 357.5,609.6 361.5,608.2 365.5,607.0 369.5,606.3 373.5,605.6 377.5,605.3 381.5,604.7 385.5,604.2 389.5,604.1 393.5,603.9 397.5,603.3 401.5,602.6 405.5,601.6 409.5,600.7 413.5,598.9 417.5,597.1 421.5,595.2 425.5,593.3 429.5,591.2 433.5,589.5 437.5,588.2 441.5,587.6 445.5,587.5 449.5,589.1 453.5,591.9 457.5,595.4 461.5,599.3 465.5,603.5 469.5,607.7 473.5,612.1 477.5,616.7 481.5,620.9 485.5,624.4 489.5,627.0 493.5,629.1 497.5,630.9 501.5,632.6 505.5,634.1 509.5,635.2 513.5,636.1 517.5,637.1 521.5,638.0 525.5,639.2 529.5,641.0 533.5,642.8 537.5,644.4 541.5,646.1 545.5,648.0 549.5,649.4 553.5,650.0 557.5,649.9 561.5,649.1 565.5,647.3 569.5,645.4 573.5,643.5 577.5,641.0 581.5,638.2 585.5,634.9 589.5,631.4 593.5,628.0 597.5,624.5 601.5,620.9 605.5,617.0 609.5,613.4 613.5,610.2 617.5,607.7 621.5,606.2 625.5,606.1 629.5,606.8 633.5,608.4 637.5,610.8 641.5,613.5 645.5,615.9 649.5,617.9 653.5,619.1 657.5,619.4 661.5,618.6 665.5,616.8 669.5,613.8 673.5,610.1 677.5,605.9 681.5,602.2 685.5,598.7 689.5,595.3 693.5,592.1 697.5,589.6 701.5,587.8 705.5,586.9 709.5,587.2 713.5,588.2 717.5,589.1 721.5,589.7 725.5,590.4 729.5,591.0 733.5,591.3 737.5,591.4 741.5,590.8 745.5,589.3 749.5,587.6 753.5,585.9 757.5,585.1 761.5,584.9 765.5,585.8 769.5,587.8 773.5,590.3 777.5,594.1 781.5,598.6 785.5,604.0 789.5,610.3 793.5,617.0 797.5,623.7 801.5,630.5 805.5,636.8 809.5,642.7 813.5,647.7 817.5,651.8 821.5,655.1 825.5,657.4 829.5,658.6 833.5,659.2 837.5,659.0 841.5,657.9 845.5,656.2 849.5,654.8 853.5,653.2 857.5,651.4 861.5,649.4 865.5,647.7 869.5,646.3 873.5,644.7 877.5,643.3 881.5,642.2 885.5,641.0 889.5,640.1 893.5,639.5 897.5,639.0 901.5,638.1 905.5,636.2 909.5,633.9 913.5,630.9 917.5,627.3 921.5,623.0 925.5,618.2 929.5,612.9 933.5,607.3 937.5,601.8 941.5,596.7 945.5,592.4 949.5,589.0 953.5,586.7 957.5,585.7 961.5,586.0 965.5,587.4 969.5,589.5 973.5,592.0 977.5,595.2 981.5,598.8 985.5,602.6 989.5,606.2 993.5,609.3 997.5,612.2 1001.5,614.6 1005.5,616.6 1009.5,618.2 1013.5,619.3 1017.5,620.1 1021.5,620.9 1025.5,621.6 1029.5,621.9 1033.5,621.1 1037.5,619.8 1041.5,618.2 1045.5,617.0 1049.5,615.9 1053.5,614.0 1057.5,611.3 1061.5,607.9 1065.5,604.2 1069.5,600.7 1073.5,597.6 1077.5,594.8 1081.5,592.2 1085.5,589.7 1089.5,587.8 1093.5,586.4 1097.5,585.1 1101.5,584.0 1105.5,583.0 1109.5,581.8 1113.5,580.5 1117.5,579.0 1121.5,577.7 1125.5,576.4 1129.5,575.4" fill="none" stroke="#FF0000" stroke-width="1" stroke-dasharray="3,3"/>
<line x1="6" y1="711.5" x2="1420" y2="711.5" stroke="#C0C0C0" stroke-width="1" stroke-dasharray="3,3"/><line x1="6" y1="762.5" x2="1420" y2="762.5" stroke="#C0C0C0" stroke-width="1" stroke-dasharray="3,3"/>
<polyline points="5.5,747.1 9.5,747.7 13.5,747.2 17.5,744.3 21.5,755.8 25.5,755.0 29.5,763.0 33.5,762.2 37.5,763.4 41.5,761.0 45.5,754.0 49.5,759.2 53.5,755.7 57.5,756.1 61.5,757.1 65.5,754.3 69.5,769.1 73.5,750.6 77.5,734.8 81.5,733.9 85.5,731.5 89.5,728.8 93.5,727.6 97.5,726.2 101.5,723.7 105.5,724.8 109.5,725.4 113.5,724.1 117.5,731.6 121.5,728.5 125.5,733.1 129.5,734.0 133.5,735.0 137.5,742.3 141.5,736.7 145.5,746.4 149.5,731.3 153.5,731.5 157.5,733.7 161.5,735.6 165.5,724.7 169.5,718.4 173.5,719.4 177.5,723.9 181.5,731.4 185.5,726.9 189.5,745.7 193.5,747.5 197.5,748.5 201.5,745.8 205.5,750.4 209.5,743.4 213.5,745.1 217.5,742.9 221.5,737.1 225.5,736.3 229.5,738.5 233.5,732.6 237.5,732.4 241.5,742.6 245.5,737.9 249.5,734.2 253.5,731.8 257.5,728.7 261.5,736.7 265.5,743.9 269.5,747.8 273.5,742.7 277.5,744.3 281.5,744.7 285.5,752.5 289.5,753.5 293.5,748.2 297.5,749.7 301.5,742.5 305.5,744.1 309.5,739.1 313.5,742.5 317.5,738.8 321.5,739.3 325.5,735.8 329.5,737.9 333.5,728.8 337.5,735.0 341.5,739.8 345.5,740.1 349.5,732.7 353.5,728.6 357.5,739.6 361.5,739.9 365.5,736.6 369.5,733.4 373.5,734.2 377.5,745.1 381.5,732.8 385.5,734.4 389.5,735.6 393.5,735.8 397.5,731.9 401.5,730.5 405.5,723.1 409.5,733.9 413.5,725.0 417.5,725.8 421.5,725.2 425.5,727.6 429.5,725.7 433.5,732.6 437.5,732.2 441.5,735.6 445.5,744.2 449.5,757.3 453.5,756.4 457.5,750.8 461.5,750.0 465.5,746.4 469.5,747.8 473.5,754.0 477.5,757.1 481.5,750.4 485.5,757.1 489.5,752.0 493.5,748.1 497.5,751.0 501.5,751.6 505.5,748.9 509.5,751.4 513.5,758.2 517.5,758.9 521.5,760.7 525.5,765.6 529.5,768.6 533.5,757.7 537.5,752.0 541.5,757.9 545.5,758.8 549.5,752.5 553.5,744.0 557.5,744.6 561.5,746.3 565.5,744.7 569.5,747.2 573.5,748.8 577.5,739.4 581.5,741.9 585.5,731.7 589.5,727.3 593.5,732.7 597.5,731.7 601.5,725.1 605.5,727.9 609.5,736.9 613.5,737.1 617.5,744.0 621.5,747.6 625.5,755.9 629.5,751.6 633.5,756.0 637.5,747.9 641.5,747.2 645.5,738.2 649.5,737.0 653.5,732.6 657.5,728.7 661.5,730.4 665.5,725.0 669.5,721.3 673.5,718.7 677.5,718.3 681.5,734.6 685.5,728.1 689.5,722.2 693.5,723.6 697.5,734.0 701.5,733.9 705.5,736.0 709.5,745.4 713.5,737.8 717.5,735.3 721.5,725.9 725.5,727.5 729.5,723.9 733.5,729.2 737.5,731.0 741.5,721.0 745.5,726.8 749.5,726.7 753.5,730.1 757.5,737.3 761.5,740.6 765.5,745.6 769.5,752.6 773.5,752.6 777.5,753.7 781.5,757.4 785.5,761.3 789.5,766.9 793.5,767.0 797.5,767.5 801.5,770.5 805.5,770.6 809.5,771.1 813.5,753.6 817.5,756.5 821.5,759.0 825.5,761.7 829.5,749.7 833.5,756.3 837.5,751.8 841.5,748.9 845.5,748.4 849.5,753.5 853.5,748.8 857.5,746.0 861.5,751.1 865.5,751.7 869.5,759.0 873.5,743.3 877.5,746.2 881.5,748.4 885.5,749.1 889.5,750.3 893.5,750.7 897.5,753.3 901.5,739.6 905.5,732.2 909.5,729.5 913.5,723.1 917.5,724.2 921.5,720.7 925.5,722.8 929.5,719.7 933.5,723.2 937.5,719.9 941.5,721.2 945.5,725.9 949.5,724.8 953.5,737.0 957.5,744.0 961.5,749.5 965.5,748.2 969.5,746.6 973.5,739.6 977.5,748.9 981.5,749.2 985.5,746.6 989.5,746.2 993.5,749.0 997.5,757.2 1001.5,747.2 1005.5,746.2 1009.5,739.0 1013.5,740.8 1017.5,747.7 1021.5,748.7 1025.5,750.5 1029.5,738.0 1033.5,729.6 1037.5,730.3 1041.5,735.7 1045.5,739.8 1049.5,739.8 1053.5,725.1 1057.5,720.2 1061.5,721.6 1065.5,718.0 1069.5,721.0 1073.5,724.1 1077.5,733.2 1081.5,732.2 1085.5,731.4 1089.5,727.7 1093.5,724.1 1097.5,716.4 1101.5,717.8 1105.5,715.0 1109.5,713.8 1113.5,722.8 1117.5,722.5 1121.5,727.0 1125.5,721.8 1129.5,726.7" fill="none" stroke="#1E90FF" stroke-width="1"/>
<rect x="1421" y="32" width="3" height="1" fill="#000"/><rect x="1421" y="65" width="3" height="1" fill="#000"/><rect x="1421" y="98" width="3" height="1" fill="#000"/><rect x="1421" y="131" width="3" height="1" fill="#000"/><rect x="1421" y="164" width="3" height="1" fill="#000"/><rect x="1421" y="197" width="3" height="1" fill="#000"/><rect x="1421" y="230" width="3" height="1" fill="#000"/><rect x="1421" y="263" width="3" height="1" fill="#000"/><rect x="1421" y="296" width="3" height="1" fill="#000"/><rect x="1421" y="329" width="3" height="1" fill="#000"/><rect x="1421" y="395" width="3" height="1" fill="#000"/><rect x="1421" y="428" width="3" height="1" fill="#000"/><rect x="1421" y="461" width="3" height="1" fill="#000"/><rect x="1421" y="494" width="3" height="1" fill="#000"/><rect x="1421" y="527" width="3" height="1" fill="#000"/><rect x="1421" y="560" width="3" height="1" fill="#000"/><rect x="5" y="802" width="1" height="3" fill="#000"/><rect x="69" y="802" width="1" height="3" fill="#000"/><rect x="133" y="802" width="1" height="3" fill="#000"/><rect x="197" y="802" width="1" height="3" fill="#000"/><rect x="261" y="802" width="1" height="3" fill="#000"/><rect x="325" y="802" width="1" height="3" fill="#000"/><rect x="389" y="802" width="1" height="3" fill="#000"/><rect x="453" y="802" width="1" height="3" fill="#000"/><rect x="517" y="802" width="1" height="3" fill="#000"/><rect x="581" y="802" width="1" height="3" fill="#000"/><rect x="645" y="802" width="1" height="3" fill="#000"/><rect x="709" y="802" width="1" height="3" fill="#000"/><rect x="773" y="802" width="1" height="3" fill="#000"/><rect x="837" y="802" width="1" height="3" fill="#000"/><rect x="901" y="802" width="1" height="3" fill="#000"/><rect x="965" y="802" width="1" height="3" fill="#000"/><rect x="1029" y="802" width="1" height="3" fill="#000"/><rect x="1093" y="802" width="1" height="3" fill="#000"/><rect x="1421" y="603" width="2" height="1" fill="#000"/><rect x="1421" y="566" width="2" height="1" fill="#000"/>
</g>
<!-- top-right small triangle -->
<polygon points="1130,24 1141,24 1135.5,29" fill="#C0C0C0"/>
<!-- title triangle -->
<polygon points="8,34 15,34 11.5,30" fill="#000"/>
<text x="1426" y="36" font-size="9.5" fill="#000" stroke="#000" stroke-width="0.15" text-anchor="start" font-weight="normal" letter-spacing="-0.26" >0.73170</text><text x="1426" y="69" font-size="9.5" fill="#000" stroke="#000" stroke-width="0.15" text-anchor="start" font-weight="normal" letter-spacing="-0.26" >0.72750</text><text x="1426" y="102" font-size="9.5" fill="#000" stroke="#000" stroke-width="0.15" text-anchor="start" font-weight="normal" letter-spacing="-0.26" >0.72340</text><text x="1426" y="135" font-size="9.5" fill="#000" stroke="#000" stroke-width="0.15" text-anchor="start" font-weight="normal" letter-spacing="-0.26" >0.71930</text><text x="1426" y="168" font-size="9.5" fill="#000" stroke="#000" stroke-width="0.15" text-anchor="start" font-weight="normal" letter-spacing="-0.26" >0.71520</text><text x="1426" y="201" font-size="9.5" fill="#000" stroke="#000" stroke-width="0.15" text-anchor="start" font-weight="normal" letter-spacing="-0.26" >0.71100</text><text x="1426" y="234" font-size="9.5" fill="#000" stroke="#000" stroke-width="0.15" text-anchor="start" font-weight="normal" letter-spacing="-0.26" >0.70690</text><text x="1426" y="267" font-size="9.5" fill="#000" stroke="#000" stroke-width="0.15" text-anchor="start" font-weight="normal" letter-spacing="-0.26" >0.70280</text><text x="1426" y="300" font-size="9.5" fill="#000" stroke="#000" stroke-width="0.15" text-anchor="start" font-weight="normal" letter-spacing="-0.26" >0.69870</text><text x="1426" y="333" font-size="9.5" fill="#000" stroke="#000" stroke-width="0.15" text-anchor="start" font-weight="normal" letter-spacing="-0.26" >0.69460</text><text x="1426" y="399" font-size="9.5" fill="#000" stroke="#000" stroke-width="0.15" text-anchor="start" font-weight="normal" letter-spacing="-0.26" >0.68630</text><text x="1426" y="432" font-size="9.5" fill="#000" stroke="#000" stroke-width="0.15" text-anchor="start" font-weight="normal" letter-spacing="-0.26" >0.68220</text><text x="1426" y="465" font-size="9.5" fill="#000" stroke="#000" stroke-width="0.15" text-anchor="start" font-weight="normal" letter-spacing="-0.26" >0.67810</text><text x="1426" y="498" font-size="9.5" fill="#000" stroke="#000" stroke-width="0.15" text-anchor="start" font-weight="normal" letter-spacing="-0.26" >0.67390</text><text x="1426" y="531" font-size="9.5" fill="#000" stroke="#000" stroke-width="0.15" text-anchor="start" font-weight="normal" letter-spacing="-0.26" >0.66980</text><text x="1426" y="564" font-size="9.5" fill="#000" stroke="#000" stroke-width="0.15" text-anchor="start" font-weight="normal" letter-spacing="-0.26" >0.66570</text><text x="4.8" y="814" font-size="9.5" fill="#000" stroke="#000" stroke-width="0.15" text-anchor="start" font-weight="normal" letter-spacing="-0.24" >14 Dec 2018</text><text x="68.8" y="814" font-size="9.5" fill="#000" stroke="#000" stroke-width="0.15" text-anchor="start" font-weight="normal" letter-spacing="-0.24" >2 Jan 2019</text><text x="132.8" y="814" font-size="9.5" fill="#000" stroke="#000" stroke-width="0.15" text-anchor="start" font-weight="normal" letter-spacing="-0.24" >21 Jan 2019</text><text x="196.8" y="814" font-size="9.5" fill="#000" stroke="#000" stroke-width="0.15" text-anchor="start" font-weight="normal" letter-spacing="-0.24" >8 Feb 2019</text><text x="260.8" y="814" font-size="9.5" fill="#000" stroke="#000" stroke-width="0.15" text-anchor="start" font-weight="normal" letter-spacing="-0.24" >27 Feb 2019</text><text x="324.8" y="814" font-size="9.5" fill="#000" stroke="#000" stroke-width="0.15" text-anchor="start" font-weight="normal" letter-spacing="-0.24" >18 Mar 2019</text><text x="388.8" y="814" font-size="9.5" fill="#000" stroke="#000" stroke-width="0.15" text-anchor="start" font-weight="normal" letter-spacing="-0.24" >5 Apr 2019</text><text x="452.8" y="814" font-size="9.5" fill="#000" stroke="#000" stroke-width="0.15" text-anchor="start" font-weight="normal" letter-spacing="-0.24" >25 Apr 2019</text><text x="516.8" y="814" font-size="9.5" fill="#000" stroke="#000" stroke-width="0.15" text-anchor="start" font-weight="normal" letter-spacing="-0.24" >14 May 2019</text><text x="580.8" y="814" font-size="9.5" fill="#000" stroke="#000" stroke-width="0.15" text-anchor="start" font-weight="normal" letter-spacing="-0.24" >2 Jun 2019</text><text x="644.8" y="814" font-size="9.5" fill="#000" stroke="#000" stroke-width="0.15" text-anchor="start" font-weight="normal" letter-spacing="-0.24" >20 Jun 2019</text><text x="708.8" y="814" font-size="9.5" fill="#000" stroke="#000" stroke-width="0.15" text-anchor="start" font-weight="normal" letter-spacing="-0.24" >9 Jul 2019</text><text x="772.8" y="814" font-size="9.5" fill="#000" stroke="#000" stroke-width="0.15" text-anchor="start" font-weight="normal" letter-spacing="-0.24" >28 Jul 2019</text><text x="836.8" y="814" font-size="9.5" fill="#000" stroke="#000" stroke-width="0.15" text-anchor="start" font-weight="normal" letter-spacing="-0.24" >15 Aug 2019</text><text x="900.8" y="814" font-size="9.5" fill="#000" stroke="#000" stroke-width="0.15" text-anchor="start" font-weight="normal" letter-spacing="-0.24" >3 Sep 2019</text><text x="964.8" y="814" font-size="9.5" fill="#000" stroke="#000" stroke-width="0.15" text-anchor="start" font-weight="normal" letter-spacing="-0.24" >22 Sep 2019</text><text x="1028.8" y="814" font-size="9.5" fill="#000" stroke="#000" stroke-width="0.15" text-anchor="start" font-weight="normal" letter-spacing="-0.24" >10 Oct 2019</text><text x="1092.8" y="814" font-size="9.5" fill="#000" stroke="#000" stroke-width="0.15" text-anchor="start" font-weight="normal" letter-spacing="-0.24" >29 Oct 2019</text><text x="1424.5" y="576" font-size="9.5" fill="#000" stroke="#000" stroke-width="0.15" text-anchor="start" font-weight="normal" letter-spacing="-0.26" >0.00349</text><text x="1424.5" y="607" font-size="9.5" fill="#000" stroke="#000" stroke-width="0.15" text-anchor="start" font-weight="normal" letter-spacing="-0.26" >0.00</text><text x="1424" y="666" font-size="9.5" fill="#000" stroke="#000" stroke-width="0.15" text-anchor="start" font-weight="normal" letter-spacing="-0.26" >-0.00637</text><text x="1424.5" y="682" font-size="9.5" fill="#000" stroke="#000" stroke-width="0.15" text-anchor="start" font-weight="normal" letter-spacing="-0.26" >100</text><text x="1424.5" y="715.5" font-size="9.5" fill="#000" stroke="#000" stroke-width="0.15" text-anchor="start" font-weight="normal" letter-spacing="-0.26" >70</text><text x="1424.5" y="766" font-size="9.5" fill="#000" stroke="#000" stroke-width="0.15" text-anchor="start" font-weight="normal" letter-spacing="-0.26" >30</text><text x="1424.5" y="798" font-size="9.5" fill="#000" stroke="#000" stroke-width="0.15" text-anchor="start" font-weight="normal" letter-spacing="-0.26" >0</text><text x="20.7" y="34.7" font-size="9.5" fill="#000" stroke="#000" stroke-width="0.15" text-anchor="start" font-weight="normal" letter-spacing="0.05" >AUDUSD-,Daily</text><text x="95.4" y="34.7" font-size="9.5" fill="#000" stroke="#000" stroke-width="0.15" text-anchor="start" font-weight="normal" letter-spacing="-0.16" >0.68981 0.69051 0.68790 0.68831</text><text x="9.6" y="578" font-size="9.5" fill="#000" stroke="#000" stroke-width="0.15" text-anchor="start" font-weight="normal" letter-spacing="-0.09" >MACD(12,26,9) 0.002623 0.002734</text><text x="9.6" y="684" font-size="9.5" fill="#000" stroke="#000" stroke-width="0.15" text-anchor="start" font-weight="normal" letter-spacing="-0.13" >RSI(14) 57.6745</text><text x="1426" y="288" font-size="9.5" fill="#FFF" stroke="#FFF" stroke-width="0.15" text-anchor="start" font-weight="normal" letter-spacing="-0.26" >0.70002</text><text x="1426" y="368" font-size="9.5" fill="#FFF" stroke="#FFF" stroke-width="0.15" text-anchor="start" font-weight="normal" letter-spacing="-0.26" >0.69006</text><text x="1426" y="448" font-size="9.5" fill="#FFF" stroke="#FFF" stroke-width="0.15" text-anchor="start" font-weight="normal" letter-spacing="-0.26" >0.68004</text><text x="1426" y="552" font-size="9.5" fill="#FFF" stroke="#FFF" stroke-width="0.15" text-anchor="start" font-weight="normal" letter-spacing="-0.26" >0.66705</text><text x="1426" y="382.5" font-size="9.5" fill="#FFF" stroke="#FFF" stroke-width="0.15" text-anchor="start" font-weight="normal" letter-spacing="-0.26" >0.68831</text>

<defs>
<linearGradient id="gtop" x1="0" y1="0" x2="0" y2="1"><stop offset="0" stop-color="#5A5AFF"/><stop offset="1" stop-color="#3A3AE6"/></linearGradient>
<linearGradient id="gbot" x1="0" y1="0" x2="0" y2="1"><stop offset="0" stop-color="#3535D8"/><stop offset="1" stop-color="#0000AA"/></linearGradient>
<linearGradient id="gbtn" x1="0" y1="0" x2="0" y2="1"><stop offset="0" stop-color="#F0F0F0"/><stop offset="0.4" stop-color="#EAEAEA"/><stop offset="0.42" stop-color="#DCDCDC"/><stop offset="1" stop-color="#D2D2D2"/></linearGradient>
</defs>
<g shape-rendering="crispEdges">
<rect x="7" y="107" width="221" height="2" fill="#fff"/>
<rect x="59" y="43" width="117" height="25" fill="#fff"/>
<rect x="117" y="67" width="2" height="40" fill="#fff"/>
<rect x="8" y="43" width="52" height="25" fill="#0000A0"/>
<rect x="9" y="44" width="50" height="23" fill="url(#gtop)"/>
<rect x="175" y="43" width="52" height="25" fill="#0000A0"/>
<rect x="176" y="44" width="50" height="23" fill="url(#gtop)"/>
<rect x="8" y="67" width="109" height="40" fill="#0000A0"/>
<rect x="9" y="67" width="107" height="39" fill="url(#gbot)"/>
<rect x="119" y="67" width="108" height="40" fill="#0000A0"/>
<rect x="120" y="67" width="106" height="39" fill="url(#gbot)"/>
<rect x="59" y="67" width="117" height="1" fill="#0000A0"/>
<rect x="12" y="66" width="44" height="1" fill="#0000A0"/>
<rect x="12" y="67" width="44" height="1" fill="#8080FF"/>
<rect x="179" y="66" width="44" height="1" fill="#0000A0"/>
<rect x="179" y="67" width="44" height="1" fill="#8080FF"/>
<rect x="62" y="43" width="111" height="22" fill="#A8A8A8"/>
<rect x="63" y="44" width="109" height="20" fill="#fff"/>
<rect x="64" y="45" width="19" height="18" fill="url(#gbtn)"/>
<rect x="83" y="44" width="1" height="20" fill="#A8A8A8"/>
<rect x="153" y="45" width="18" height="18" fill="url(#gbtn)"/>
<rect x="151" y="44" width="1" height="20" fill="#A8A8A8"/>
</g>
<polygon points="70,52 76,52 73,55.5" fill="#4858B8"/>
<polygon points="158.5,55.5 164.5,55.5 161.5,52" fill="#4858B8"/>
<text x="147.5" y="57.5" font-size="11.5" fill="#000" text-anchor="end" letter-spacing="-0.3">1.00</text>
<text x="33.5" y="58.5" font-size="11" fill="#fff" text-anchor="middle" letter-spacing="-0.2">SELL</text>
<text x="200.5" y="58.5" font-size="11" fill="#fff" text-anchor="middle" letter-spacing="-0.2">BUY</text>
<text x="28" y="98" font-size="12.3" font-weight="bold" fill="#fff" letter-spacing="-0.3">0.68</text>
<text x="56.5" y="98" font-size="33.5" fill="#fff" textLength="33" lengthAdjust="spacingAndGlyphs">83</text>
<text x="95" y="82" font-size="12.3" font-weight="bold" fill="#fff">1</text>
<text x="138" y="98" font-size="12.3" font-weight="bold" fill="#fff" letter-spacing="-0.3">0.68</text>
<text x="167.7" y="98" font-size="33.5" fill="#fff" textLength="33.6" lengthAdjust="spacingAndGlyphs">84</text>
<text x="205.5" y="82" font-size="12.3" font-weight="bold" fill="#fff">9</text>


<text x="7.5" y="11" font-size="9.6" fill="#333">H4</text>
<text x="36.5" y="11" font-size="9.6" fill="#333">D1</text>
<text x="64" y="11" font-size="9.6" fill="#333">W1</text>
<text x="90.5" y="11" font-size="9.6" fill="#333">MN</text>

<g shape-rendering="crispEdges">
<rect x="0" y="822" width="1463" height="1" fill="#E3E3E3"/>
<rect x="0" y="823" width="1463" height="23" fill="#F0F0F0"/>
<rect x="0" y="824" width="1463" height="1" fill="#000"/>
<rect x="0" y="844" width="1463" height="1" fill="#FFFFFF"/>
<rect x="0" y="845" width="1463" height="1" fill="#F0F0F0"/>
<rect x="0" y="823" width="1" height="21" fill="#A0A0A0"/>
<rect x="1" y="823" width="1" height="21" fill="#696969"/>
<rect x="114" y="824" width="108" height="19" fill="#fff"/>
<rect x="114" y="824" width="1" height="19" fill="#000"/><rect x="222" y="824" width="1" height="19" fill="#000"/><rect x="114" y="842" width="109" height="1" fill="#000"/>
<rect x="222" y="829" width="1" height="12" fill="#808080"/>
<rect x="329" y="829" width="1" height="12" fill="#808080"/>
<rect x="438" y="829" width="1" height="12" fill="#808080"/>
<rect x="549" y="829" width="1" height="12" fill="#808080"/>
<rect x="669" y="829" width="1" height="12" fill="#808080"/>
<rect x="793" y="829" width="1" height="12" fill="#808080"/>
<rect x="888" y="829" width="1" height="12" fill="#808080"/>
<rect x="969" y="829" width="1" height="12" fill="#808080"/>
<rect x="1074" y="829" width="1" height="12" fill="#808080"/>
<rect x="1166" y="829" width="1" height="12" fill="#808080"/>
</g>
<text x="59.0" y="838.5" font-size="12" fill="#6D6D6D" text-anchor="middle">EURUSD-,Daily</text>
<text x="168.5" y="838.5" font-size="12" fill="#000" text-anchor="middle">AUDUSD-,Daily</text>
<text x="276.0" y="838.5" font-size="12" fill="#6D6D6D" text-anchor="middle">USDCHF-,Daily</text>
<text x="384.0" y="838.5" font-size="12" fill="#6D6D6D" text-anchor="middle">USDCAD-,Daily</text>
<text x="494.0" y="838.5" font-size="12" fill="#6D6D6D" text-anchor="middle">USDCNH-,Daily</text>
<text x="609.5" y="838.5" font-size="12" fill="#6D6D6D" text-anchor="middle">EURCHF-,Weekly</text>
<text x="731.5" y="838.5" font-size="12" fill="#6D6D6D" text-anchor="middle">XAUUSD-,Weekly</text>
<text x="841.0" y="838.5" font-size="12" fill="#6D6D6D" text-anchor="middle">GBPUSD-,H1</text>
<text x="929.0" y="838.5" font-size="12" fill="#6D6D6D" text-anchor="middle">UKOil-,H1</text>
<text x="1022.0" y="838.5" font-size="12" fill="#6D6D6D" text-anchor="middle">USDX-,Weekly</text>
<text x="1120.5" y="838.5" font-size="12" fill="#6D6D6D" text-anchor="middle">EURCHF-,H1</text>
<text x="1206.0" y="838.5" font-size="12" fill="#6D6D6D" text-anchor="middle">USOil-,H1</text>
<polygon points="1435.5,833 1439.5,829.5 1439.5,836.5" fill="#A0A0A0"/><polygon points="1455,829.5 1459,833 1455,836.5" fill="#A0A0A0"/><rect x="1246" y="829" width="1" height="12" fill="#808080"/>
</svg>
</body></html>
